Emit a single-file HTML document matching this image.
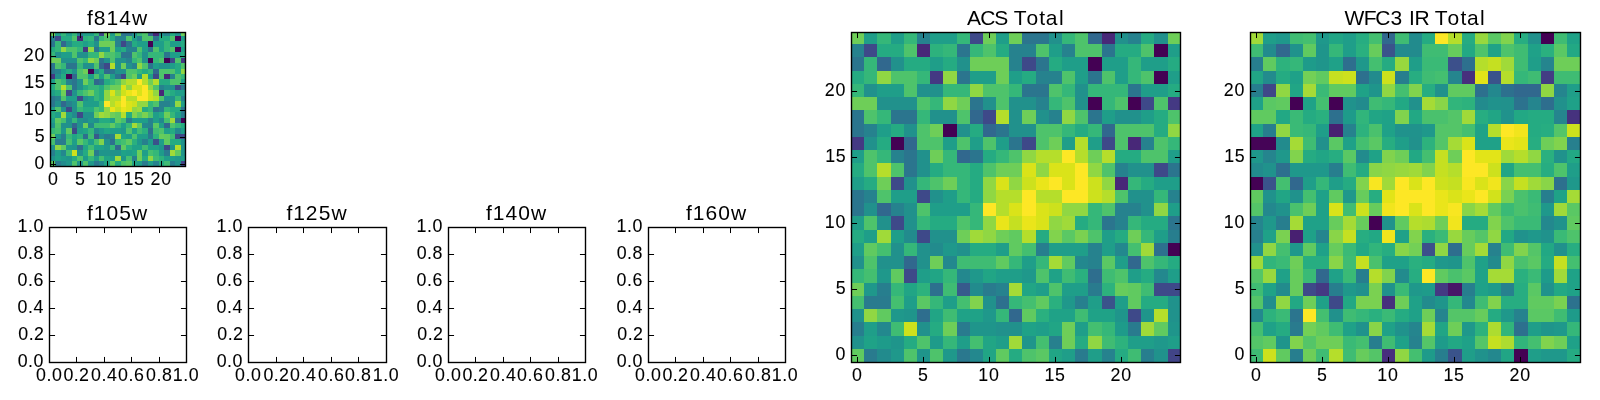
<!DOCTYPE html>
<html><head><meta charset="utf-8"><title>figure</title>
<style>
html,body{margin:0;padding:0;background:#fff;}
body{width:1600px;height:400px;overflow:hidden;}
svg{display:block;will-change:transform;}
text{font-family:"Liberation Sans",sans-serif;fill:#000;}
.tk text{stroke:#000;stroke-width:0.08px;}
.c rect{shape-rendering:crispEdges;}
.k path{stroke:#000;stroke-width:1;fill:none;}
.s{fill:none;stroke:#000;stroke-width:1.39;}
</style></head><body>
<svg width="1600" height="400" viewBox="0 0 1600 400">
<rect x="0" y="0" width="1600" height="400" fill="#fff"/>
<g class="c">
<rect x="50" y="32" width="5" height="4" fill="#6ece58"/>
<rect x="55" y="32" width="6" height="4" fill="#1f9e89"/>
<rect x="61" y="32" width="5" height="4" fill="#35b779"/>
<rect x="66" y="32" width="6" height="4" fill="#1f9e89"/>
<rect x="72" y="32" width="5" height="4" fill="#35b779"/>
<rect x="77" y="32" width="6" height="4" fill="#26828e"/>
<rect x="83" y="32" width="5" height="4" fill="#1f9e89"/>
<rect x="88" y="32" width="6" height="4" fill="#1f9e89"/>
<rect x="94" y="32" width="5" height="4" fill="#35b779"/>
<rect x="99" y="32" width="5" height="4" fill="#3e4989"/>
<rect x="104" y="32" width="6" height="4" fill="#6ece58"/>
<rect x="110" y="32" width="5" height="4" fill="#1f9e89"/>
<rect x="115" y="32" width="6" height="4" fill="#6ece58"/>
<rect x="121" y="32" width="5" height="4" fill="#2b758e"/>
<rect x="126" y="32" width="6" height="4" fill="#2b758e"/>
<rect x="132" y="32" width="5" height="4" fill="#21918c"/>
<rect x="137" y="32" width="5" height="4" fill="#35b779"/>
<rect x="142" y="32" width="6" height="4" fill="#4ec36b"/>
<rect x="148" y="32" width="5" height="4" fill="#31688e"/>
<rect x="153" y="32" width="6" height="4" fill="#482878"/>
<rect x="159" y="32" width="5" height="4" fill="#21918c"/>
<rect x="164" y="32" width="6" height="4" fill="#26828e"/>
<rect x="170" y="32" width="5" height="4" fill="#25ab82"/>
<rect x="175" y="32" width="6" height="4" fill="#21918c"/>
<rect x="181" y="32" width="5" height="4" fill="#6ece58"/>
<rect x="50" y="36" width="5" height="5" fill="#26828e"/>
<rect x="55" y="36" width="6" height="5" fill="#3e4989"/>
<rect x="61" y="36" width="5" height="5" fill="#25ab82"/>
<rect x="66" y="36" width="6" height="5" fill="#25ab82"/>
<rect x="72" y="36" width="5" height="5" fill="#4ec36b"/>
<rect x="77" y="36" width="6" height="5" fill="#482878"/>
<rect x="83" y="36" width="5" height="5" fill="#2db27d"/>
<rect x="88" y="36" width="6" height="5" fill="#35b779"/>
<rect x="94" y="36" width="5" height="5" fill="#2b758e"/>
<rect x="99" y="36" width="5" height="5" fill="#35b779"/>
<rect x="104" y="36" width="6" height="5" fill="#4ec36b"/>
<rect x="110" y="36" width="5" height="5" fill="#25ab82"/>
<rect x="115" y="36" width="6" height="5" fill="#26828e"/>
<rect x="121" y="36" width="5" height="5" fill="#26828e"/>
<rect x="126" y="36" width="6" height="5" fill="#4ec36b"/>
<rect x="132" y="36" width="5" height="5" fill="#1f9e89"/>
<rect x="137" y="36" width="5" height="5" fill="#26828e"/>
<rect x="142" y="36" width="6" height="5" fill="#4ec36b"/>
<rect x="148" y="36" width="5" height="5" fill="#4ec36b"/>
<rect x="153" y="36" width="6" height="5" fill="#2b758e"/>
<rect x="159" y="36" width="5" height="5" fill="#25ab82"/>
<rect x="164" y="36" width="6" height="5" fill="#25ab82"/>
<rect x="170" y="36" width="5" height="5" fill="#4ec36b"/>
<rect x="175" y="36" width="6" height="5" fill="#440154"/>
<rect x="181" y="36" width="5" height="5" fill="#1f9e89"/>
<rect x="50" y="41" width="5" height="6" fill="#2b758e"/>
<rect x="55" y="41" width="6" height="6" fill="#35b779"/>
<rect x="61" y="41" width="5" height="6" fill="#31688e"/>
<rect x="66" y="41" width="6" height="6" fill="#21918c"/>
<rect x="72" y="41" width="5" height="6" fill="#25ab82"/>
<rect x="77" y="41" width="6" height="6" fill="#25ab82"/>
<rect x="83" y="41" width="5" height="6" fill="#1f9e89"/>
<rect x="88" y="41" width="6" height="6" fill="#25ab82"/>
<rect x="94" y="41" width="5" height="6" fill="#21918c"/>
<rect x="99" y="41" width="5" height="6" fill="#6ece58"/>
<rect x="104" y="41" width="6" height="6" fill="#6ece58"/>
<rect x="110" y="41" width="5" height="6" fill="#6ece58"/>
<rect x="115" y="41" width="6" height="6" fill="#26828e"/>
<rect x="121" y="41" width="5" height="6" fill="#3e4989"/>
<rect x="126" y="41" width="6" height="6" fill="#2b758e"/>
<rect x="132" y="41" width="5" height="6" fill="#25ab82"/>
<rect x="137" y="41" width="5" height="6" fill="#1f9e89"/>
<rect x="142" y="41" width="6" height="6" fill="#1f9e89"/>
<rect x="148" y="41" width="5" height="6" fill="#440154"/>
<rect x="153" y="41" width="6" height="6" fill="#1f9e89"/>
<rect x="159" y="41" width="5" height="6" fill="#1f9e89"/>
<rect x="164" y="41" width="6" height="6" fill="#35b779"/>
<rect x="170" y="41" width="5" height="6" fill="#1f9e89"/>
<rect x="175" y="41" width="6" height="6" fill="#1f9e89"/>
<rect x="181" y="41" width="5" height="6" fill="#25ab82"/>
<rect x="50" y="47" width="5" height="5" fill="#25ab82"/>
<rect x="55" y="47" width="6" height="5" fill="#35b779"/>
<rect x="61" y="47" width="5" height="5" fill="#90d743"/>
<rect x="66" y="47" width="6" height="5" fill="#4ec36b"/>
<rect x="72" y="47" width="5" height="5" fill="#4ec36b"/>
<rect x="77" y="47" width="6" height="5" fill="#35b779"/>
<rect x="83" y="47" width="5" height="5" fill="#443983"/>
<rect x="88" y="47" width="6" height="5" fill="#90d743"/>
<rect x="94" y="47" width="5" height="5" fill="#2b758e"/>
<rect x="99" y="47" width="5" height="5" fill="#1f9e89"/>
<rect x="104" y="47" width="6" height="5" fill="#1f9e89"/>
<rect x="110" y="47" width="5" height="5" fill="#6ece58"/>
<rect x="115" y="47" width="6" height="5" fill="#1f9e89"/>
<rect x="121" y="47" width="5" height="5" fill="#25ab82"/>
<rect x="126" y="47" width="6" height="5" fill="#26828e"/>
<rect x="132" y="47" width="5" height="5" fill="#26828e"/>
<rect x="137" y="47" width="5" height="5" fill="#4ec36b"/>
<rect x="142" y="47" width="6" height="5" fill="#1f9e89"/>
<rect x="148" y="47" width="5" height="5" fill="#2b758e"/>
<rect x="153" y="47" width="6" height="5" fill="#4ec36b"/>
<rect x="159" y="47" width="5" height="5" fill="#1f9e89"/>
<rect x="164" y="47" width="6" height="5" fill="#35b779"/>
<rect x="170" y="47" width="5" height="5" fill="#4ec36b"/>
<rect x="175" y="47" width="6" height="5" fill="#440154"/>
<rect x="181" y="47" width="5" height="5" fill="#1f9e89"/>
<rect x="50" y="52" width="5" height="6" fill="#35b779"/>
<rect x="55" y="52" width="6" height="6" fill="#21918c"/>
<rect x="61" y="52" width="5" height="6" fill="#1f9e89"/>
<rect x="66" y="52" width="6" height="6" fill="#1f9e89"/>
<rect x="72" y="52" width="5" height="6" fill="#4ec36b"/>
<rect x="77" y="52" width="6" height="6" fill="#21918c"/>
<rect x="83" y="52" width="5" height="6" fill="#21918c"/>
<rect x="88" y="52" width="6" height="6" fill="#35b779"/>
<rect x="94" y="52" width="5" height="6" fill="#35b779"/>
<rect x="99" y="52" width="5" height="6" fill="#90d743"/>
<rect x="104" y="52" width="6" height="6" fill="#4ec36b"/>
<rect x="110" y="52" width="5" height="6" fill="#4ec36b"/>
<rect x="115" y="52" width="6" height="6" fill="#35b779"/>
<rect x="121" y="52" width="5" height="6" fill="#2b758e"/>
<rect x="126" y="52" width="6" height="6" fill="#2b758e"/>
<rect x="132" y="52" width="5" height="6" fill="#4ec36b"/>
<rect x="137" y="52" width="5" height="6" fill="#35b779"/>
<rect x="142" y="52" width="6" height="6" fill="#21918c"/>
<rect x="148" y="52" width="5" height="6" fill="#35b779"/>
<rect x="153" y="52" width="6" height="6" fill="#35b779"/>
<rect x="159" y="52" width="5" height="6" fill="#35b779"/>
<rect x="164" y="52" width="6" height="6" fill="#2b758e"/>
<rect x="170" y="52" width="5" height="6" fill="#1f9e89"/>
<rect x="175" y="52" width="6" height="6" fill="#1f9e89"/>
<rect x="181" y="52" width="5" height="6" fill="#25ab82"/>
<rect x="50" y="58" width="5" height="5" fill="#6ece58"/>
<rect x="55" y="58" width="6" height="5" fill="#6ece58"/>
<rect x="61" y="58" width="5" height="5" fill="#21918c"/>
<rect x="66" y="58" width="6" height="5" fill="#21918c"/>
<rect x="72" y="58" width="5" height="5" fill="#21918c"/>
<rect x="77" y="58" width="6" height="5" fill="#4ec36b"/>
<rect x="83" y="58" width="5" height="5" fill="#35b779"/>
<rect x="88" y="58" width="6" height="5" fill="#90d743"/>
<rect x="94" y="58" width="5" height="5" fill="#6ece58"/>
<rect x="99" y="58" width="5" height="5" fill="#2b758e"/>
<rect x="104" y="58" width="6" height="5" fill="#21918c"/>
<rect x="110" y="58" width="5" height="5" fill="#4ec36b"/>
<rect x="115" y="58" width="6" height="5" fill="#21918c"/>
<rect x="121" y="58" width="5" height="5" fill="#21918c"/>
<rect x="126" y="58" width="6" height="5" fill="#26828e"/>
<rect x="132" y="58" width="5" height="5" fill="#35b779"/>
<rect x="137" y="58" width="5" height="5" fill="#4ec36b"/>
<rect x="142" y="58" width="6" height="5" fill="#21918c"/>
<rect x="148" y="58" width="5" height="5" fill="#440154"/>
<rect x="153" y="58" width="6" height="5" fill="#35b779"/>
<rect x="159" y="58" width="5" height="5" fill="#4ec36b"/>
<rect x="164" y="58" width="6" height="5" fill="#440154"/>
<rect x="170" y="58" width="5" height="5" fill="#3e4989"/>
<rect x="175" y="58" width="6" height="5" fill="#4ec36b"/>
<rect x="181" y="58" width="5" height="5" fill="#443983"/>
<rect x="50" y="63" width="5" height="6" fill="#2b758e"/>
<rect x="55" y="63" width="6" height="6" fill="#4ec36b"/>
<rect x="61" y="63" width="5" height="6" fill="#35b779"/>
<rect x="66" y="63" width="6" height="6" fill="#2b758e"/>
<rect x="72" y="63" width="5" height="6" fill="#2b758e"/>
<rect x="77" y="63" width="6" height="6" fill="#35b779"/>
<rect x="83" y="63" width="5" height="6" fill="#21918c"/>
<rect x="88" y="63" width="6" height="6" fill="#21918c"/>
<rect x="94" y="63" width="5" height="6" fill="#4ec36b"/>
<rect x="99" y="63" width="5" height="6" fill="#31688e"/>
<rect x="104" y="63" width="6" height="6" fill="#3e4989"/>
<rect x="110" y="63" width="5" height="6" fill="#b5de2b"/>
<rect x="115" y="63" width="6" height="6" fill="#21918c"/>
<rect x="121" y="63" width="5" height="6" fill="#6ece58"/>
<rect x="126" y="63" width="6" height="6" fill="#21918c"/>
<rect x="132" y="63" width="5" height="6" fill="#26828e"/>
<rect x="137" y="63" width="5" height="6" fill="#90d743"/>
<rect x="142" y="63" width="6" height="6" fill="#4ec36b"/>
<rect x="148" y="63" width="5" height="6" fill="#2b758e"/>
<rect x="153" y="63" width="6" height="6" fill="#1f9e89"/>
<rect x="159" y="63" width="5" height="6" fill="#21918c"/>
<rect x="164" y="63" width="6" height="6" fill="#21918c"/>
<rect x="170" y="63" width="5" height="6" fill="#1f9e89"/>
<rect x="175" y="63" width="6" height="6" fill="#25ab82"/>
<rect x="181" y="63" width="5" height="6" fill="#4ec36b"/>
<rect x="50" y="69" width="5" height="5" fill="#2b758e"/>
<rect x="55" y="69" width="6" height="5" fill="#26828e"/>
<rect x="61" y="69" width="5" height="5" fill="#1f9e89"/>
<rect x="66" y="69" width="6" height="5" fill="#25ab82"/>
<rect x="72" y="69" width="5" height="5" fill="#21918c"/>
<rect x="77" y="69" width="6" height="5" fill="#4ec36b"/>
<rect x="83" y="69" width="5" height="5" fill="#6ece58"/>
<rect x="88" y="69" width="6" height="5" fill="#440154"/>
<rect x="94" y="69" width="5" height="5" fill="#21918c"/>
<rect x="99" y="69" width="5" height="5" fill="#25ab82"/>
<rect x="104" y="69" width="6" height="5" fill="#31688e"/>
<rect x="110" y="69" width="5" height="5" fill="#2b758e"/>
<rect x="115" y="69" width="6" height="5" fill="#21918c"/>
<rect x="121" y="69" width="5" height="5" fill="#21918c"/>
<rect x="126" y="69" width="6" height="5" fill="#4ec36b"/>
<rect x="132" y="69" width="5" height="5" fill="#4ec36b"/>
<rect x="137" y="69" width="5" height="5" fill="#35b779"/>
<rect x="142" y="69" width="6" height="5" fill="#25ab82"/>
<rect x="148" y="69" width="5" height="5" fill="#35b779"/>
<rect x="153" y="69" width="6" height="5" fill="#31688e"/>
<rect x="159" y="69" width="5" height="5" fill="#4ec36b"/>
<rect x="164" y="69" width="6" height="5" fill="#4ec36b"/>
<rect x="170" y="69" width="5" height="5" fill="#4ec36b"/>
<rect x="175" y="69" width="6" height="5" fill="#25ab82"/>
<rect x="181" y="69" width="5" height="5" fill="#90d743"/>
<rect x="50" y="74" width="5" height="5" fill="#443983"/>
<rect x="55" y="74" width="6" height="5" fill="#21918c"/>
<rect x="61" y="74" width="5" height="5" fill="#25ab82"/>
<rect x="66" y="74" width="6" height="5" fill="#440154"/>
<rect x="72" y="74" width="5" height="5" fill="#31688e"/>
<rect x="77" y="74" width="6" height="5" fill="#4ec36b"/>
<rect x="83" y="74" width="5" height="5" fill="#4ec36b"/>
<rect x="88" y="74" width="6" height="5" fill="#1f9e89"/>
<rect x="94" y="74" width="5" height="5" fill="#4ec36b"/>
<rect x="99" y="74" width="5" height="5" fill="#1f9e89"/>
<rect x="104" y="74" width="6" height="5" fill="#4ec36b"/>
<rect x="110" y="74" width="5" height="5" fill="#1f9e89"/>
<rect x="115" y="74" width="6" height="5" fill="#2b758e"/>
<rect x="121" y="74" width="5" height="5" fill="#3e4989"/>
<rect x="126" y="74" width="6" height="5" fill="#4ec36b"/>
<rect x="132" y="74" width="5" height="5" fill="#6ece58"/>
<rect x="137" y="74" width="5" height="5" fill="#1f9e89"/>
<rect x="142" y="74" width="6" height="5" fill="#b5de2b"/>
<rect x="148" y="74" width="5" height="5" fill="#1f9e89"/>
<rect x="153" y="74" width="6" height="5" fill="#3e4989"/>
<rect x="159" y="74" width="5" height="5" fill="#4ec36b"/>
<rect x="164" y="74" width="6" height="5" fill="#482878"/>
<rect x="170" y="74" width="5" height="5" fill="#26828e"/>
<rect x="175" y="74" width="6" height="5" fill="#4ec36b"/>
<rect x="181" y="74" width="5" height="5" fill="#35b779"/>
<rect x="50" y="79" width="5" height="6" fill="#1f9e89"/>
<rect x="55" y="79" width="6" height="6" fill="#4ec36b"/>
<rect x="61" y="79" width="5" height="6" fill="#35b779"/>
<rect x="66" y="79" width="6" height="6" fill="#26828e"/>
<rect x="72" y="79" width="5" height="6" fill="#2b758e"/>
<rect x="77" y="79" width="6" height="6" fill="#21918c"/>
<rect x="83" y="79" width="5" height="6" fill="#6ece58"/>
<rect x="88" y="79" width="6" height="6" fill="#35b779"/>
<rect x="94" y="79" width="5" height="6" fill="#31688e"/>
<rect x="99" y="79" width="5" height="6" fill="#2b758e"/>
<rect x="104" y="79" width="6" height="6" fill="#25ab82"/>
<rect x="110" y="79" width="5" height="6" fill="#35b779"/>
<rect x="115" y="79" width="6" height="6" fill="#4ec36b"/>
<rect x="121" y="79" width="5" height="6" fill="#90d743"/>
<rect x="126" y="79" width="6" height="6" fill="#b5de2b"/>
<rect x="132" y="79" width="5" height="6" fill="#b5de2b"/>
<rect x="137" y="79" width="5" height="6" fill="#fde725"/>
<rect x="142" y="79" width="6" height="6" fill="#b5de2b"/>
<rect x="148" y="79" width="5" height="6" fill="#6ece58"/>
<rect x="153" y="79" width="6" height="6" fill="#b5de2b"/>
<rect x="159" y="79" width="5" height="6" fill="#25ab82"/>
<rect x="164" y="79" width="6" height="6" fill="#25ab82"/>
<rect x="170" y="79" width="5" height="6" fill="#4ec36b"/>
<rect x="175" y="79" width="6" height="6" fill="#4ec36b"/>
<rect x="181" y="79" width="5" height="6" fill="#1f9e89"/>
<rect x="50" y="85" width="5" height="5" fill="#25ab82"/>
<rect x="55" y="85" width="6" height="5" fill="#4ec36b"/>
<rect x="61" y="85" width="5" height="5" fill="#b5de2b"/>
<rect x="66" y="85" width="6" height="5" fill="#4ec36b"/>
<rect x="72" y="85" width="5" height="5" fill="#2b758e"/>
<rect x="77" y="85" width="6" height="5" fill="#21918c"/>
<rect x="83" y="85" width="5" height="5" fill="#25ab82"/>
<rect x="88" y="85" width="6" height="5" fill="#35b779"/>
<rect x="94" y="85" width="5" height="5" fill="#35b779"/>
<rect x="99" y="85" width="5" height="5" fill="#25ab82"/>
<rect x="104" y="85" width="6" height="5" fill="#4ec36b"/>
<rect x="110" y="85" width="5" height="5" fill="#6ece58"/>
<rect x="115" y="85" width="6" height="5" fill="#6ece58"/>
<rect x="121" y="85" width="5" height="5" fill="#dae319"/>
<rect x="126" y="85" width="6" height="5" fill="#90d743"/>
<rect x="132" y="85" width="5" height="5" fill="#dae319"/>
<rect x="137" y="85" width="5" height="5" fill="#dae319"/>
<rect x="142" y="85" width="6" height="5" fill="#fde725"/>
<rect x="148" y="85" width="5" height="5" fill="#90d743"/>
<rect x="153" y="85" width="6" height="5" fill="#4ec36b"/>
<rect x="159" y="85" width="5" height="5" fill="#26828e"/>
<rect x="164" y="85" width="6" height="5" fill="#21918c"/>
<rect x="170" y="85" width="5" height="5" fill="#21918c"/>
<rect x="175" y="85" width="6" height="5" fill="#3e4989"/>
<rect x="181" y="85" width="5" height="5" fill="#2b758e"/>
<rect x="50" y="90" width="5" height="6" fill="#1f9e89"/>
<rect x="55" y="90" width="6" height="6" fill="#25ab82"/>
<rect x="61" y="90" width="5" height="6" fill="#6ece58"/>
<rect x="66" y="90" width="6" height="6" fill="#3e4989"/>
<rect x="72" y="90" width="5" height="6" fill="#21918c"/>
<rect x="77" y="90" width="6" height="6" fill="#35b779"/>
<rect x="83" y="90" width="5" height="6" fill="#4ec36b"/>
<rect x="88" y="90" width="6" height="6" fill="#6ece58"/>
<rect x="94" y="90" width="5" height="6" fill="#35b779"/>
<rect x="99" y="90" width="5" height="6" fill="#25ab82"/>
<rect x="104" y="90" width="6" height="6" fill="#90d743"/>
<rect x="110" y="90" width="5" height="6" fill="#dae319"/>
<rect x="115" y="90" width="6" height="6" fill="#90d743"/>
<rect x="121" y="90" width="5" height="6" fill="#cde11d"/>
<rect x="126" y="90" width="6" height="6" fill="#eae51a"/>
<rect x="132" y="90" width="5" height="6" fill="#fde725"/>
<rect x="137" y="90" width="5" height="6" fill="#dae319"/>
<rect x="142" y="90" width="6" height="6" fill="#fde725"/>
<rect x="148" y="90" width="5" height="6" fill="#cde11d"/>
<rect x="153" y="90" width="6" height="6" fill="#90d743"/>
<rect x="159" y="90" width="5" height="6" fill="#482878"/>
<rect x="164" y="90" width="6" height="6" fill="#35b779"/>
<rect x="170" y="90" width="5" height="6" fill="#25ab82"/>
<rect x="175" y="90" width="6" height="6" fill="#1f9e89"/>
<rect x="181" y="90" width="5" height="6" fill="#1f9e89"/>
<rect x="50" y="96" width="5" height="5" fill="#2b758e"/>
<rect x="55" y="96" width="6" height="5" fill="#26828e"/>
<rect x="61" y="96" width="5" height="5" fill="#4ec36b"/>
<rect x="66" y="96" width="6" height="5" fill="#1f9e89"/>
<rect x="72" y="96" width="5" height="5" fill="#1f9e89"/>
<rect x="77" y="96" width="6" height="5" fill="#3e4989"/>
<rect x="83" y="96" width="5" height="5" fill="#21918c"/>
<rect x="88" y="96" width="6" height="5" fill="#1f9e89"/>
<rect x="94" y="96" width="5" height="5" fill="#35b779"/>
<rect x="99" y="96" width="5" height="5" fill="#25ab82"/>
<rect x="104" y="96" width="6" height="5" fill="#90d743"/>
<rect x="110" y="96" width="5" height="5" fill="#b5de2b"/>
<rect x="115" y="96" width="6" height="5" fill="#b5de2b"/>
<rect x="121" y="96" width="5" height="5" fill="#fde725"/>
<rect x="126" y="96" width="6" height="5" fill="#b5de2b"/>
<rect x="132" y="96" width="5" height="5" fill="#b5de2b"/>
<rect x="137" y="96" width="5" height="5" fill="#fde725"/>
<rect x="142" y="96" width="6" height="5" fill="#fde725"/>
<rect x="148" y="96" width="5" height="5" fill="#cde11d"/>
<rect x="153" y="96" width="6" height="5" fill="#b5de2b"/>
<rect x="159" y="96" width="5" height="5" fill="#4ec36b"/>
<rect x="164" y="96" width="6" height="5" fill="#21918c"/>
<rect x="170" y="96" width="5" height="5" fill="#21918c"/>
<rect x="175" y="96" width="6" height="5" fill="#35b779"/>
<rect x="181" y="96" width="5" height="5" fill="#26828e"/>
<rect x="50" y="101" width="5" height="6" fill="#2b758e"/>
<rect x="55" y="101" width="6" height="6" fill="#21918c"/>
<rect x="61" y="101" width="5" height="6" fill="#31688e"/>
<rect x="66" y="101" width="6" height="6" fill="#26828e"/>
<rect x="72" y="101" width="5" height="6" fill="#21918c"/>
<rect x="77" y="101" width="6" height="6" fill="#4ec36b"/>
<rect x="83" y="101" width="5" height="6" fill="#1f9e89"/>
<rect x="88" y="101" width="6" height="6" fill="#1f9e89"/>
<rect x="94" y="101" width="5" height="6" fill="#1f9e89"/>
<rect x="99" y="101" width="5" height="6" fill="#35b779"/>
<rect x="104" y="101" width="6" height="6" fill="#fde725"/>
<rect x="110" y="101" width="5" height="6" fill="#b5de2b"/>
<rect x="115" y="101" width="6" height="6" fill="#dae319"/>
<rect x="121" y="101" width="5" height="6" fill="#fde725"/>
<rect x="126" y="101" width="6" height="6" fill="#dae319"/>
<rect x="132" y="101" width="5" height="6" fill="#cde11d"/>
<rect x="137" y="101" width="5" height="6" fill="#90d743"/>
<rect x="142" y="101" width="6" height="6" fill="#90d743"/>
<rect x="148" y="101" width="5" height="6" fill="#35b779"/>
<rect x="153" y="101" width="6" height="6" fill="#4ec36b"/>
<rect x="159" y="101" width="5" height="6" fill="#26828e"/>
<rect x="164" y="101" width="6" height="6" fill="#26828e"/>
<rect x="170" y="101" width="5" height="6" fill="#21918c"/>
<rect x="175" y="101" width="6" height="6" fill="#90d743"/>
<rect x="181" y="101" width="5" height="6" fill="#1f9e89"/>
<rect x="50" y="107" width="5" height="5" fill="#1f9e89"/>
<rect x="55" y="107" width="6" height="5" fill="#4ec36b"/>
<rect x="61" y="107" width="5" height="5" fill="#21918c"/>
<rect x="66" y="107" width="6" height="5" fill="#3e4989"/>
<rect x="72" y="107" width="5" height="5" fill="#21918c"/>
<rect x="77" y="107" width="6" height="5" fill="#35b779"/>
<rect x="83" y="107" width="5" height="5" fill="#25ab82"/>
<rect x="88" y="107" width="6" height="5" fill="#25ab82"/>
<rect x="94" y="107" width="5" height="5" fill="#4ec36b"/>
<rect x="99" y="107" width="5" height="5" fill="#35b779"/>
<rect x="104" y="107" width="6" height="5" fill="#90d743"/>
<rect x="110" y="107" width="5" height="5" fill="#eae51a"/>
<rect x="115" y="107" width="6" height="5" fill="#c5e021"/>
<rect x="121" y="107" width="5" height="5" fill="#eae51a"/>
<rect x="126" y="107" width="6" height="5" fill="#dae319"/>
<rect x="132" y="107" width="5" height="5" fill="#90d743"/>
<rect x="137" y="107" width="5" height="5" fill="#a0da39"/>
<rect x="142" y="107" width="6" height="5" fill="#25ab82"/>
<rect x="148" y="107" width="5" height="5" fill="#35b779"/>
<rect x="153" y="107" width="6" height="5" fill="#2b758e"/>
<rect x="159" y="107" width="5" height="5" fill="#26828e"/>
<rect x="164" y="107" width="6" height="5" fill="#35b779"/>
<rect x="170" y="107" width="5" height="5" fill="#25ab82"/>
<rect x="175" y="107" width="6" height="5" fill="#25ab82"/>
<rect x="181" y="107" width="5" height="5" fill="#2b758e"/>
<rect x="50" y="112" width="5" height="6" fill="#25ab82"/>
<rect x="55" y="112" width="6" height="6" fill="#1f9e89"/>
<rect x="61" y="112" width="5" height="6" fill="#a0da39"/>
<rect x="66" y="112" width="6" height="6" fill="#1f9e89"/>
<rect x="72" y="112" width="5" height="6" fill="#228b8d"/>
<rect x="77" y="112" width="6" height="6" fill="#3e4989"/>
<rect x="83" y="112" width="5" height="6" fill="#21918c"/>
<rect x="88" y="112" width="6" height="6" fill="#21918c"/>
<rect x="94" y="112" width="5" height="6" fill="#6ece58"/>
<rect x="99" y="112" width="5" height="6" fill="#a0da39"/>
<rect x="104" y="112" width="6" height="6" fill="#90d743"/>
<rect x="110" y="112" width="5" height="6" fill="#6ece58"/>
<rect x="115" y="112" width="6" height="6" fill="#60ca60"/>
<rect x="121" y="112" width="5" height="6" fill="#b5de2b"/>
<rect x="126" y="112" width="6" height="6" fill="#25ab82"/>
<rect x="132" y="112" width="5" height="6" fill="#81d34d"/>
<rect x="137" y="112" width="5" height="6" fill="#5ac864"/>
<rect x="142" y="112" width="6" height="6" fill="#7ad151"/>
<rect x="148" y="112" width="5" height="6" fill="#4ec36b"/>
<rect x="153" y="112" width="6" height="6" fill="#1f9e89"/>
<rect x="159" y="112" width="5" height="6" fill="#25ab82"/>
<rect x="164" y="112" width="6" height="6" fill="#6ece58"/>
<rect x="170" y="112" width="5" height="6" fill="#35b779"/>
<rect x="175" y="112" width="6" height="6" fill="#1f9e89"/>
<rect x="181" y="112" width="5" height="6" fill="#277e8e"/>
<rect x="50" y="118" width="5" height="5" fill="#1f9e89"/>
<rect x="55" y="118" width="6" height="5" fill="#60ca60"/>
<rect x="61" y="118" width="5" height="5" fill="#44bf70"/>
<rect x="66" y="118" width="6" height="5" fill="#21918c"/>
<rect x="72" y="118" width="5" height="5" fill="#35b779"/>
<rect x="77" y="118" width="6" height="5" fill="#21918c"/>
<rect x="83" y="118" width="5" height="5" fill="#228b8d"/>
<rect x="88" y="118" width="6" height="5" fill="#1f988b"/>
<rect x="94" y="118" width="5" height="5" fill="#21918c"/>
<rect x="99" y="118" width="5" height="5" fill="#25ab82"/>
<rect x="104" y="118" width="6" height="5" fill="#25ab82"/>
<rect x="110" y="118" width="5" height="5" fill="#1f9e89"/>
<rect x="115" y="118" width="6" height="5" fill="#60ca60"/>
<rect x="121" y="118" width="5" height="5" fill="#44bf70"/>
<rect x="126" y="118" width="6" height="5" fill="#277e8e"/>
<rect x="132" y="118" width="5" height="5" fill="#1f9e89"/>
<rect x="137" y="118" width="5" height="5" fill="#1f9e89"/>
<rect x="142" y="118" width="6" height="5" fill="#1f9e89"/>
<rect x="148" y="118" width="5" height="5" fill="#26828e"/>
<rect x="153" y="118" width="6" height="5" fill="#1f9e89"/>
<rect x="159" y="118" width="5" height="5" fill="#23888e"/>
<rect x="164" y="118" width="6" height="5" fill="#44bf70"/>
<rect x="170" y="118" width="5" height="5" fill="#a0da39"/>
<rect x="175" y="118" width="6" height="5" fill="#2d708e"/>
<rect x="181" y="118" width="5" height="5" fill="#440154"/>
<rect x="50" y="123" width="5" height="5" fill="#21918c"/>
<rect x="55" y="123" width="6" height="5" fill="#4ec36b"/>
<rect x="61" y="123" width="5" height="5" fill="#21918c"/>
<rect x="66" y="123" width="6" height="5" fill="#21918c"/>
<rect x="72" y="123" width="5" height="5" fill="#31688e"/>
<rect x="77" y="123" width="6" height="5" fill="#21918c"/>
<rect x="83" y="123" width="5" height="5" fill="#6ece58"/>
<rect x="88" y="123" width="6" height="5" fill="#23888e"/>
<rect x="94" y="123" width="5" height="5" fill="#3fbc73"/>
<rect x="99" y="123" width="5" height="5" fill="#3fbc73"/>
<rect x="104" y="123" width="6" height="5" fill="#3fbc73"/>
<rect x="110" y="123" width="5" height="5" fill="#60ca60"/>
<rect x="115" y="123" width="6" height="5" fill="#35b779"/>
<rect x="121" y="123" width="5" height="5" fill="#1f9e89"/>
<rect x="126" y="123" width="6" height="5" fill="#35b779"/>
<rect x="132" y="123" width="5" height="5" fill="#a5db36"/>
<rect x="137" y="123" width="5" height="5" fill="#60ca60"/>
<rect x="142" y="123" width="6" height="5" fill="#23888e"/>
<rect x="148" y="123" width="5" height="5" fill="#26828e"/>
<rect x="153" y="123" width="6" height="5" fill="#5ac864"/>
<rect x="159" y="123" width="5" height="5" fill="#1f9e89"/>
<rect x="164" y="123" width="6" height="5" fill="#31688e"/>
<rect x="170" y="123" width="5" height="5" fill="#4ec36b"/>
<rect x="175" y="123" width="6" height="5" fill="#35b779"/>
<rect x="181" y="123" width="5" height="5" fill="#25ab82"/>
<rect x="50" y="128" width="5" height="6" fill="#35b779"/>
<rect x="55" y="128" width="6" height="6" fill="#44bf70"/>
<rect x="61" y="128" width="5" height="6" fill="#1f988b"/>
<rect x="66" y="128" width="6" height="6" fill="#60ca60"/>
<rect x="72" y="128" width="5" height="6" fill="#3e4989"/>
<rect x="77" y="128" width="6" height="6" fill="#1f9e89"/>
<rect x="83" y="128" width="5" height="6" fill="#21a585"/>
<rect x="88" y="128" width="6" height="6" fill="#35b779"/>
<rect x="94" y="128" width="5" height="6" fill="#23888e"/>
<rect x="99" y="128" width="5" height="6" fill="#1f988b"/>
<rect x="104" y="128" width="6" height="6" fill="#21a585"/>
<rect x="110" y="128" width="5" height="6" fill="#1f9e89"/>
<rect x="115" y="128" width="6" height="6" fill="#1f9e89"/>
<rect x="121" y="128" width="5" height="6" fill="#1f988b"/>
<rect x="126" y="128" width="6" height="6" fill="#4ec36b"/>
<rect x="132" y="128" width="5" height="6" fill="#1fa287"/>
<rect x="137" y="128" width="5" height="6" fill="#3fbc73"/>
<rect x="142" y="128" width="6" height="6" fill="#2ab07f"/>
<rect x="148" y="128" width="5" height="6" fill="#2e6e8e"/>
<rect x="153" y="128" width="6" height="6" fill="#3fbc73"/>
<rect x="159" y="128" width="5" height="6" fill="#4ec36b"/>
<rect x="164" y="128" width="6" height="6" fill="#1f9e89"/>
<rect x="170" y="128" width="5" height="6" fill="#25ab82"/>
<rect x="175" y="128" width="6" height="6" fill="#23888e"/>
<rect x="181" y="128" width="5" height="6" fill="#1f9e89"/>
<rect x="50" y="134" width="5" height="5" fill="#6ece58"/>
<rect x="55" y="134" width="6" height="5" fill="#1f988b"/>
<rect x="61" y="134" width="5" height="5" fill="#277e8e"/>
<rect x="66" y="134" width="6" height="5" fill="#35b779"/>
<rect x="72" y="134" width="5" height="5" fill="#21a585"/>
<rect x="77" y="134" width="6" height="5" fill="#2db27d"/>
<rect x="83" y="134" width="5" height="5" fill="#2d708e"/>
<rect x="88" y="134" width="6" height="5" fill="#3fbc73"/>
<rect x="94" y="134" width="5" height="5" fill="#375a8c"/>
<rect x="99" y="134" width="5" height="5" fill="#228b8d"/>
<rect x="104" y="134" width="6" height="5" fill="#297b8e"/>
<rect x="110" y="134" width="5" height="5" fill="#26828e"/>
<rect x="115" y="134" width="6" height="5" fill="#a5db36"/>
<rect x="121" y="134" width="5" height="5" fill="#21a585"/>
<rect x="126" y="134" width="6" height="5" fill="#1f9e89"/>
<rect x="132" y="134" width="5" height="5" fill="#4ec36b"/>
<rect x="137" y="134" width="5" height="5" fill="#1f9e89"/>
<rect x="142" y="134" width="6" height="5" fill="#1f9e89"/>
<rect x="148" y="134" width="5" height="5" fill="#297b8e"/>
<rect x="153" y="134" width="6" height="5" fill="#2db27d"/>
<rect x="159" y="134" width="5" height="5" fill="#67cc5c"/>
<rect x="164" y="134" width="6" height="5" fill="#60ca60"/>
<rect x="170" y="134" width="5" height="5" fill="#3fbc73"/>
<rect x="175" y="134" width="6" height="5" fill="#3e4989"/>
<rect x="181" y="134" width="5" height="5" fill="#3e4989"/>
<rect x="50" y="139" width="5" height="6" fill="#44bf70"/>
<rect x="55" y="139" width="6" height="6" fill="#297b8e"/>
<rect x="61" y="139" width="5" height="6" fill="#297b8e"/>
<rect x="66" y="139" width="6" height="6" fill="#44bf70"/>
<rect x="72" y="139" width="5" height="6" fill="#1f9e89"/>
<rect x="77" y="139" width="6" height="6" fill="#5ac864"/>
<rect x="83" y="139" width="5" height="6" fill="#35b779"/>
<rect x="88" y="139" width="6" height="6" fill="#1f9e89"/>
<rect x="94" y="139" width="5" height="6" fill="#44bf70"/>
<rect x="99" y="139" width="5" height="6" fill="#81d34d"/>
<rect x="104" y="139" width="6" height="6" fill="#21918c"/>
<rect x="110" y="139" width="5" height="6" fill="#2d708e"/>
<rect x="115" y="139" width="6" height="6" fill="#35b779"/>
<rect x="121" y="139" width="5" height="6" fill="#44bf70"/>
<rect x="126" y="139" width="6" height="6" fill="#60ca60"/>
<rect x="132" y="139" width="5" height="6" fill="#2ab07f"/>
<rect x="137" y="139" width="5" height="6" fill="#1f988b"/>
<rect x="142" y="139" width="6" height="6" fill="#27808e"/>
<rect x="148" y="139" width="5" height="6" fill="#1f9e89"/>
<rect x="153" y="139" width="6" height="6" fill="#3a538b"/>
<rect x="159" y="139" width="5" height="6" fill="#1f9e89"/>
<rect x="164" y="139" width="6" height="6" fill="#60ca60"/>
<rect x="170" y="139" width="5" height="6" fill="#25ab82"/>
<rect x="175" y="139" width="6" height="6" fill="#25ab82"/>
<rect x="181" y="139" width="5" height="6" fill="#20928c"/>
<rect x="50" y="145" width="5" height="5" fill="#20928c"/>
<rect x="55" y="145" width="6" height="5" fill="#90d743"/>
<rect x="61" y="145" width="5" height="5" fill="#60ca60"/>
<rect x="66" y="145" width="6" height="5" fill="#1f988b"/>
<rect x="72" y="145" width="5" height="5" fill="#1f958b"/>
<rect x="77" y="145" width="6" height="5" fill="#2e6e8e"/>
<rect x="83" y="145" width="5" height="5" fill="#21a585"/>
<rect x="88" y="145" width="6" height="5" fill="#3fbc73"/>
<rect x="94" y="145" width="5" height="5" fill="#1fa287"/>
<rect x="99" y="145" width="5" height="5" fill="#1fa287"/>
<rect x="104" y="145" width="6" height="5" fill="#1f988b"/>
<rect x="110" y="145" width="5" height="5" fill="#35b779"/>
<rect x="115" y="145" width="6" height="5" fill="#31688e"/>
<rect x="121" y="145" width="5" height="5" fill="#60ca60"/>
<rect x="126" y="145" width="6" height="5" fill="#2ab07f"/>
<rect x="132" y="145" width="5" height="5" fill="#1fa287"/>
<rect x="137" y="145" width="5" height="5" fill="#1fa287"/>
<rect x="142" y="145" width="6" height="5" fill="#3fbc73"/>
<rect x="148" y="145" width="5" height="5" fill="#1fa287"/>
<rect x="153" y="145" width="6" height="5" fill="#1fa287"/>
<rect x="159" y="145" width="5" height="5" fill="#1f958b"/>
<rect x="164" y="145" width="6" height="5" fill="#3e4989"/>
<rect x="170" y="145" width="5" height="5" fill="#1f958b"/>
<rect x="175" y="145" width="6" height="5" fill="#b5de2b"/>
<rect x="181" y="145" width="5" height="5" fill="#20928c"/>
<rect x="50" y="150" width="5" height="6" fill="#277e8e"/>
<rect x="55" y="150" width="6" height="6" fill="#1f9e89"/>
<rect x="61" y="150" width="5" height="6" fill="#23888e"/>
<rect x="66" y="150" width="6" height="6" fill="#3fbc73"/>
<rect x="72" y="150" width="5" height="6" fill="#cde11d"/>
<rect x="77" y="150" width="6" height="6" fill="#21918c"/>
<rect x="83" y="150" width="5" height="6" fill="#25ab82"/>
<rect x="88" y="150" width="6" height="6" fill="#6ece58"/>
<rect x="94" y="150" width="5" height="6" fill="#297b8e"/>
<rect x="99" y="150" width="5" height="6" fill="#1f958b"/>
<rect x="104" y="150" width="6" height="6" fill="#1f958b"/>
<rect x="110" y="150" width="5" height="6" fill="#21918c"/>
<rect x="115" y="150" width="6" height="6" fill="#21918c"/>
<rect x="121" y="150" width="5" height="6" fill="#1fa287"/>
<rect x="126" y="150" width="6" height="6" fill="#1f9e89"/>
<rect x="132" y="150" width="5" height="6" fill="#21a585"/>
<rect x="137" y="150" width="5" height="6" fill="#6ece58"/>
<rect x="142" y="150" width="6" height="6" fill="#1f9e89"/>
<rect x="148" y="150" width="5" height="6" fill="#44bf70"/>
<rect x="153" y="150" width="6" height="6" fill="#35b779"/>
<rect x="159" y="150" width="5" height="6" fill="#1e9b8a"/>
<rect x="164" y="150" width="6" height="6" fill="#297b8e"/>
<rect x="170" y="150" width="5" height="6" fill="#a0da39"/>
<rect x="175" y="150" width="6" height="6" fill="#60ca60"/>
<rect x="181" y="150" width="5" height="6" fill="#1f958b"/>
<rect x="50" y="156" width="5" height="5" fill="#20928c"/>
<rect x="55" y="156" width="6" height="5" fill="#1fa287"/>
<rect x="61" y="156" width="5" height="5" fill="#1e9b8a"/>
<rect x="66" y="156" width="6" height="5" fill="#1f958b"/>
<rect x="72" y="156" width="5" height="5" fill="#25ab82"/>
<rect x="77" y="156" width="6" height="5" fill="#4ec36b"/>
<rect x="83" y="156" width="5" height="5" fill="#1e9b8a"/>
<rect x="88" y="156" width="6" height="5" fill="#35b779"/>
<rect x="94" y="156" width="5" height="5" fill="#1f9e89"/>
<rect x="99" y="156" width="5" height="5" fill="#44bf70"/>
<rect x="104" y="156" width="6" height="5" fill="#21a585"/>
<rect x="110" y="156" width="5" height="5" fill="#1f9e89"/>
<rect x="115" y="156" width="6" height="5" fill="#a0da39"/>
<rect x="121" y="156" width="5" height="5" fill="#1f958b"/>
<rect x="126" y="156" width="6" height="5" fill="#44bf70"/>
<rect x="132" y="156" width="5" height="5" fill="#27808e"/>
<rect x="137" y="156" width="5" height="5" fill="#6ece58"/>
<rect x="142" y="156" width="6" height="5" fill="#25ab82"/>
<rect x="148" y="156" width="5" height="5" fill="#90d743"/>
<rect x="153" y="156" width="6" height="5" fill="#3fbc73"/>
<rect x="159" y="156" width="5" height="5" fill="#2db27d"/>
<rect x="164" y="156" width="6" height="5" fill="#1f9e89"/>
<rect x="170" y="156" width="5" height="5" fill="#1f9e89"/>
<rect x="175" y="156" width="6" height="5" fill="#1f988b"/>
<rect x="181" y="156" width="5" height="5" fill="#1f9e89"/>
<rect x="50" y="161" width="5" height="6" fill="#60ca60"/>
<rect x="55" y="161" width="6" height="6" fill="#297b8e"/>
<rect x="61" y="161" width="5" height="6" fill="#228b8d"/>
<rect x="66" y="161" width="6" height="6" fill="#1f988b"/>
<rect x="72" y="161" width="5" height="6" fill="#4ec36b"/>
<rect x="77" y="161" width="6" height="6" fill="#1f958b"/>
<rect x="83" y="161" width="5" height="6" fill="#4ec36b"/>
<rect x="88" y="161" width="6" height="6" fill="#1f988b"/>
<rect x="94" y="161" width="5" height="6" fill="#2a788e"/>
<rect x="99" y="161" width="5" height="6" fill="#23888e"/>
<rect x="104" y="161" width="6" height="6" fill="#21a585"/>
<rect x="110" y="161" width="5" height="6" fill="#60ca60"/>
<rect x="115" y="161" width="6" height="6" fill="#25ab82"/>
<rect x="121" y="161" width="5" height="6" fill="#4ec36b"/>
<rect x="126" y="161" width="6" height="6" fill="#5ac864"/>
<rect x="132" y="161" width="5" height="6" fill="#21a585"/>
<rect x="137" y="161" width="5" height="6" fill="#1f9e89"/>
<rect x="142" y="161" width="6" height="6" fill="#297b8e"/>
<rect x="148" y="161" width="5" height="6" fill="#1f9e89"/>
<rect x="153" y="161" width="6" height="6" fill="#26828e"/>
<rect x="159" y="161" width="5" height="6" fill="#25ab82"/>
<rect x="164" y="161" width="6" height="6" fill="#3fbc73"/>
<rect x="170" y="161" width="5" height="6" fill="#277e8e"/>
<rect x="175" y="161" width="6" height="6" fill="#20928c"/>
<rect x="181" y="161" width="5" height="6" fill="#414487"/>
<rect x="851" y="32" width="13" height="12" fill="#6ece58"/>
<rect x="864" y="32" width="13" height="12" fill="#1f9e89"/>
<rect x="877" y="32" width="14" height="12" fill="#35b779"/>
<rect x="891" y="32" width="13" height="12" fill="#1f9e89"/>
<rect x="904" y="32" width="13" height="12" fill="#35b779"/>
<rect x="917" y="32" width="13" height="12" fill="#26828e"/>
<rect x="930" y="32" width="13" height="12" fill="#1f9e89"/>
<rect x="943" y="32" width="14" height="12" fill="#1f9e89"/>
<rect x="957" y="32" width="13" height="12" fill="#35b779"/>
<rect x="970" y="32" width="13" height="12" fill="#3e4989"/>
<rect x="983" y="32" width="13" height="12" fill="#6ece58"/>
<rect x="996" y="32" width="13" height="12" fill="#1f9e89"/>
<rect x="1009" y="32" width="13" height="12" fill="#6ece58"/>
<rect x="1022" y="32" width="14" height="12" fill="#2b758e"/>
<rect x="1036" y="32" width="13" height="12" fill="#2b758e"/>
<rect x="1049" y="32" width="13" height="12" fill="#21918c"/>
<rect x="1062" y="32" width="13" height="12" fill="#35b779"/>
<rect x="1075" y="32" width="13" height="12" fill="#4ec36b"/>
<rect x="1088" y="32" width="14" height="12" fill="#31688e"/>
<rect x="1102" y="32" width="13" height="12" fill="#482878"/>
<rect x="1115" y="32" width="13" height="12" fill="#21918c"/>
<rect x="1128" y="32" width="13" height="12" fill="#26828e"/>
<rect x="1141" y="32" width="13" height="12" fill="#25ab82"/>
<rect x="1154" y="32" width="14" height="12" fill="#21918c"/>
<rect x="1168" y="32" width="13" height="12" fill="#6ece58"/>
<rect x="851" y="44" width="13" height="13" fill="#26828e"/>
<rect x="864" y="44" width="13" height="13" fill="#3e4989"/>
<rect x="877" y="44" width="14" height="13" fill="#25ab82"/>
<rect x="891" y="44" width="13" height="13" fill="#25ab82"/>
<rect x="904" y="44" width="13" height="13" fill="#4ec36b"/>
<rect x="917" y="44" width="13" height="13" fill="#482878"/>
<rect x="930" y="44" width="13" height="13" fill="#2db27d"/>
<rect x="943" y="44" width="14" height="13" fill="#35b779"/>
<rect x="957" y="44" width="13" height="13" fill="#2b758e"/>
<rect x="970" y="44" width="13" height="13" fill="#35b779"/>
<rect x="983" y="44" width="13" height="13" fill="#4ec36b"/>
<rect x="996" y="44" width="13" height="13" fill="#25ab82"/>
<rect x="1009" y="44" width="13" height="13" fill="#26828e"/>
<rect x="1022" y="44" width="14" height="13" fill="#26828e"/>
<rect x="1036" y="44" width="13" height="13" fill="#4ec36b"/>
<rect x="1049" y="44" width="13" height="13" fill="#1f9e89"/>
<rect x="1062" y="44" width="13" height="13" fill="#26828e"/>
<rect x="1075" y="44" width="13" height="13" fill="#4ec36b"/>
<rect x="1088" y="44" width="14" height="13" fill="#4ec36b"/>
<rect x="1102" y="44" width="13" height="13" fill="#2b758e"/>
<rect x="1115" y="44" width="13" height="13" fill="#25ab82"/>
<rect x="1128" y="44" width="13" height="13" fill="#25ab82"/>
<rect x="1141" y="44" width="13" height="13" fill="#4ec36b"/>
<rect x="1154" y="44" width="14" height="13" fill="#440154"/>
<rect x="1168" y="44" width="13" height="13" fill="#1f9e89"/>
<rect x="851" y="57" width="13" height="14" fill="#2b758e"/>
<rect x="864" y="57" width="13" height="14" fill="#35b779"/>
<rect x="877" y="57" width="14" height="14" fill="#31688e"/>
<rect x="891" y="57" width="13" height="14" fill="#21918c"/>
<rect x="904" y="57" width="13" height="14" fill="#25ab82"/>
<rect x="917" y="57" width="13" height="14" fill="#25ab82"/>
<rect x="930" y="57" width="13" height="14" fill="#1f9e89"/>
<rect x="943" y="57" width="14" height="14" fill="#25ab82"/>
<rect x="957" y="57" width="13" height="14" fill="#21918c"/>
<rect x="970" y="57" width="13" height="14" fill="#6ece58"/>
<rect x="983" y="57" width="13" height="14" fill="#6ece58"/>
<rect x="996" y="57" width="13" height="14" fill="#6ece58"/>
<rect x="1009" y="57" width="13" height="14" fill="#26828e"/>
<rect x="1022" y="57" width="14" height="14" fill="#3e4989"/>
<rect x="1036" y="57" width="13" height="14" fill="#2b758e"/>
<rect x="1049" y="57" width="13" height="14" fill="#25ab82"/>
<rect x="1062" y="57" width="13" height="14" fill="#1f9e89"/>
<rect x="1075" y="57" width="13" height="14" fill="#1f9e89"/>
<rect x="1088" y="57" width="14" height="14" fill="#440154"/>
<rect x="1102" y="57" width="13" height="14" fill="#1f9e89"/>
<rect x="1115" y="57" width="13" height="14" fill="#1f9e89"/>
<rect x="1128" y="57" width="13" height="14" fill="#35b779"/>
<rect x="1141" y="57" width="13" height="14" fill="#1f9e89"/>
<rect x="1154" y="57" width="14" height="14" fill="#1f9e89"/>
<rect x="1168" y="57" width="13" height="14" fill="#25ab82"/>
<rect x="851" y="71" width="13" height="13" fill="#25ab82"/>
<rect x="864" y="71" width="13" height="13" fill="#35b779"/>
<rect x="877" y="71" width="14" height="13" fill="#90d743"/>
<rect x="891" y="71" width="13" height="13" fill="#4ec36b"/>
<rect x="904" y="71" width="13" height="13" fill="#4ec36b"/>
<rect x="917" y="71" width="13" height="13" fill="#35b779"/>
<rect x="930" y="71" width="13" height="13" fill="#443983"/>
<rect x="943" y="71" width="14" height="13" fill="#90d743"/>
<rect x="957" y="71" width="13" height="13" fill="#2b758e"/>
<rect x="970" y="71" width="13" height="13" fill="#1f9e89"/>
<rect x="983" y="71" width="13" height="13" fill="#1f9e89"/>
<rect x="996" y="71" width="13" height="13" fill="#6ece58"/>
<rect x="1009" y="71" width="13" height="13" fill="#1f9e89"/>
<rect x="1022" y="71" width="14" height="13" fill="#25ab82"/>
<rect x="1036" y="71" width="13" height="13" fill="#26828e"/>
<rect x="1049" y="71" width="13" height="13" fill="#26828e"/>
<rect x="1062" y="71" width="13" height="13" fill="#4ec36b"/>
<rect x="1075" y="71" width="13" height="13" fill="#1f9e89"/>
<rect x="1088" y="71" width="14" height="13" fill="#2b758e"/>
<rect x="1102" y="71" width="13" height="13" fill="#4ec36b"/>
<rect x="1115" y="71" width="13" height="13" fill="#1f9e89"/>
<rect x="1128" y="71" width="13" height="13" fill="#35b779"/>
<rect x="1141" y="71" width="13" height="13" fill="#4ec36b"/>
<rect x="1154" y="71" width="14" height="13" fill="#440154"/>
<rect x="1168" y="71" width="13" height="13" fill="#1f9e89"/>
<rect x="851" y="84" width="13" height="13" fill="#35b779"/>
<rect x="864" y="84" width="13" height="13" fill="#21918c"/>
<rect x="877" y="84" width="14" height="13" fill="#1f9e89"/>
<rect x="891" y="84" width="13" height="13" fill="#1f9e89"/>
<rect x="904" y="84" width="13" height="13" fill="#4ec36b"/>
<rect x="917" y="84" width="13" height="13" fill="#21918c"/>
<rect x="930" y="84" width="13" height="13" fill="#21918c"/>
<rect x="943" y="84" width="14" height="13" fill="#35b779"/>
<rect x="957" y="84" width="13" height="13" fill="#35b779"/>
<rect x="970" y="84" width="13" height="13" fill="#90d743"/>
<rect x="983" y="84" width="13" height="13" fill="#4ec36b"/>
<rect x="996" y="84" width="13" height="13" fill="#4ec36b"/>
<rect x="1009" y="84" width="13" height="13" fill="#35b779"/>
<rect x="1022" y="84" width="14" height="13" fill="#2b758e"/>
<rect x="1036" y="84" width="13" height="13" fill="#2b758e"/>
<rect x="1049" y="84" width="13" height="13" fill="#4ec36b"/>
<rect x="1062" y="84" width="13" height="13" fill="#35b779"/>
<rect x="1075" y="84" width="13" height="13" fill="#21918c"/>
<rect x="1088" y="84" width="14" height="13" fill="#35b779"/>
<rect x="1102" y="84" width="13" height="13" fill="#35b779"/>
<rect x="1115" y="84" width="13" height="13" fill="#35b779"/>
<rect x="1128" y="84" width="13" height="13" fill="#2b758e"/>
<rect x="1141" y="84" width="13" height="13" fill="#1f9e89"/>
<rect x="1154" y="84" width="14" height="13" fill="#1f9e89"/>
<rect x="1168" y="84" width="13" height="13" fill="#25ab82"/>
<rect x="851" y="97" width="13" height="13" fill="#6ece58"/>
<rect x="864" y="97" width="13" height="13" fill="#6ece58"/>
<rect x="877" y="97" width="14" height="13" fill="#21918c"/>
<rect x="891" y="97" width="13" height="13" fill="#21918c"/>
<rect x="904" y="97" width="13" height="13" fill="#21918c"/>
<rect x="917" y="97" width="13" height="13" fill="#4ec36b"/>
<rect x="930" y="97" width="13" height="13" fill="#35b779"/>
<rect x="943" y="97" width="14" height="13" fill="#90d743"/>
<rect x="957" y="97" width="13" height="13" fill="#6ece58"/>
<rect x="970" y="97" width="13" height="13" fill="#2b758e"/>
<rect x="983" y="97" width="13" height="13" fill="#21918c"/>
<rect x="996" y="97" width="13" height="13" fill="#4ec36b"/>
<rect x="1009" y="97" width="13" height="13" fill="#21918c"/>
<rect x="1022" y="97" width="14" height="13" fill="#21918c"/>
<rect x="1036" y="97" width="13" height="13" fill="#26828e"/>
<rect x="1049" y="97" width="13" height="13" fill="#35b779"/>
<rect x="1062" y="97" width="13" height="13" fill="#4ec36b"/>
<rect x="1075" y="97" width="13" height="13" fill="#21918c"/>
<rect x="1088" y="97" width="14" height="13" fill="#440154"/>
<rect x="1102" y="97" width="13" height="13" fill="#35b779"/>
<rect x="1115" y="97" width="13" height="13" fill="#4ec36b"/>
<rect x="1128" y="97" width="13" height="13" fill="#440154"/>
<rect x="1141" y="97" width="13" height="13" fill="#3e4989"/>
<rect x="1154" y="97" width="14" height="13" fill="#4ec36b"/>
<rect x="1168" y="97" width="13" height="13" fill="#443983"/>
<rect x="851" y="110" width="13" height="14" fill="#2b758e"/>
<rect x="864" y="110" width="13" height="14" fill="#4ec36b"/>
<rect x="877" y="110" width="14" height="14" fill="#35b779"/>
<rect x="891" y="110" width="13" height="14" fill="#2b758e"/>
<rect x="904" y="110" width="13" height="14" fill="#2b758e"/>
<rect x="917" y="110" width="13" height="14" fill="#35b779"/>
<rect x="930" y="110" width="13" height="14" fill="#21918c"/>
<rect x="943" y="110" width="14" height="14" fill="#21918c"/>
<rect x="957" y="110" width="13" height="14" fill="#4ec36b"/>
<rect x="970" y="110" width="13" height="14" fill="#31688e"/>
<rect x="983" y="110" width="13" height="14" fill="#3e4989"/>
<rect x="996" y="110" width="13" height="14" fill="#b5de2b"/>
<rect x="1009" y="110" width="13" height="14" fill="#21918c"/>
<rect x="1022" y="110" width="14" height="14" fill="#6ece58"/>
<rect x="1036" y="110" width="13" height="14" fill="#21918c"/>
<rect x="1049" y="110" width="13" height="14" fill="#26828e"/>
<rect x="1062" y="110" width="13" height="14" fill="#90d743"/>
<rect x="1075" y="110" width="13" height="14" fill="#4ec36b"/>
<rect x="1088" y="110" width="14" height="14" fill="#2b758e"/>
<rect x="1102" y="110" width="13" height="14" fill="#1f9e89"/>
<rect x="1115" y="110" width="13" height="14" fill="#21918c"/>
<rect x="1128" y="110" width="13" height="14" fill="#21918c"/>
<rect x="1141" y="110" width="13" height="14" fill="#1f9e89"/>
<rect x="1154" y="110" width="14" height="14" fill="#25ab82"/>
<rect x="1168" y="110" width="13" height="14" fill="#4ec36b"/>
<rect x="851" y="124" width="13" height="13" fill="#2b758e"/>
<rect x="864" y="124" width="13" height="13" fill="#26828e"/>
<rect x="877" y="124" width="14" height="13" fill="#1f9e89"/>
<rect x="891" y="124" width="13" height="13" fill="#25ab82"/>
<rect x="904" y="124" width="13" height="13" fill="#21918c"/>
<rect x="917" y="124" width="13" height="13" fill="#4ec36b"/>
<rect x="930" y="124" width="13" height="13" fill="#6ece58"/>
<rect x="943" y="124" width="14" height="13" fill="#440154"/>
<rect x="957" y="124" width="13" height="13" fill="#21918c"/>
<rect x="970" y="124" width="13" height="13" fill="#25ab82"/>
<rect x="983" y="124" width="13" height="13" fill="#31688e"/>
<rect x="996" y="124" width="13" height="13" fill="#2b758e"/>
<rect x="1009" y="124" width="13" height="13" fill="#21918c"/>
<rect x="1022" y="124" width="14" height="13" fill="#21918c"/>
<rect x="1036" y="124" width="13" height="13" fill="#4ec36b"/>
<rect x="1049" y="124" width="13" height="13" fill="#4ec36b"/>
<rect x="1062" y="124" width="13" height="13" fill="#35b779"/>
<rect x="1075" y="124" width="13" height="13" fill="#25ab82"/>
<rect x="1088" y="124" width="14" height="13" fill="#35b779"/>
<rect x="1102" y="124" width="13" height="13" fill="#31688e"/>
<rect x="1115" y="124" width="13" height="13" fill="#4ec36b"/>
<rect x="1128" y="124" width="13" height="13" fill="#4ec36b"/>
<rect x="1141" y="124" width="13" height="13" fill="#4ec36b"/>
<rect x="1154" y="124" width="14" height="13" fill="#25ab82"/>
<rect x="1168" y="124" width="13" height="13" fill="#90d743"/>
<rect x="851" y="137" width="13" height="13" fill="#443983"/>
<rect x="864" y="137" width="13" height="13" fill="#21918c"/>
<rect x="877" y="137" width="14" height="13" fill="#25ab82"/>
<rect x="891" y="137" width="13" height="13" fill="#440154"/>
<rect x="904" y="137" width="13" height="13" fill="#31688e"/>
<rect x="917" y="137" width="13" height="13" fill="#4ec36b"/>
<rect x="930" y="137" width="13" height="13" fill="#4ec36b"/>
<rect x="943" y="137" width="14" height="13" fill="#1f9e89"/>
<rect x="957" y="137" width="13" height="13" fill="#4ec36b"/>
<rect x="970" y="137" width="13" height="13" fill="#1f9e89"/>
<rect x="983" y="137" width="13" height="13" fill="#4ec36b"/>
<rect x="996" y="137" width="13" height="13" fill="#1f9e89"/>
<rect x="1009" y="137" width="13" height="13" fill="#2b758e"/>
<rect x="1022" y="137" width="14" height="13" fill="#3e4989"/>
<rect x="1036" y="137" width="13" height="13" fill="#4ec36b"/>
<rect x="1049" y="137" width="13" height="13" fill="#6ece58"/>
<rect x="1062" y="137" width="13" height="13" fill="#1f9e89"/>
<rect x="1075" y="137" width="13" height="13" fill="#b5de2b"/>
<rect x="1088" y="137" width="14" height="13" fill="#1f9e89"/>
<rect x="1102" y="137" width="13" height="13" fill="#3e4989"/>
<rect x="1115" y="137" width="13" height="13" fill="#4ec36b"/>
<rect x="1128" y="137" width="13" height="13" fill="#482878"/>
<rect x="1141" y="137" width="13" height="13" fill="#26828e"/>
<rect x="1154" y="137" width="14" height="13" fill="#4ec36b"/>
<rect x="1168" y="137" width="13" height="13" fill="#35b779"/>
<rect x="851" y="150" width="13" height="13" fill="#1f9e89"/>
<rect x="864" y="150" width="13" height="13" fill="#4ec36b"/>
<rect x="877" y="150" width="14" height="13" fill="#35b779"/>
<rect x="891" y="150" width="13" height="13" fill="#26828e"/>
<rect x="904" y="150" width="13" height="13" fill="#2b758e"/>
<rect x="917" y="150" width="13" height="13" fill="#21918c"/>
<rect x="930" y="150" width="13" height="13" fill="#6ece58"/>
<rect x="943" y="150" width="14" height="13" fill="#35b779"/>
<rect x="957" y="150" width="13" height="13" fill="#31688e"/>
<rect x="970" y="150" width="13" height="13" fill="#2b758e"/>
<rect x="983" y="150" width="13" height="13" fill="#25ab82"/>
<rect x="996" y="150" width="13" height="13" fill="#35b779"/>
<rect x="1009" y="150" width="13" height="13" fill="#4ec36b"/>
<rect x="1022" y="150" width="14" height="13" fill="#90d743"/>
<rect x="1036" y="150" width="13" height="13" fill="#b5de2b"/>
<rect x="1049" y="150" width="13" height="13" fill="#b5de2b"/>
<rect x="1062" y="150" width="13" height="13" fill="#fde725"/>
<rect x="1075" y="150" width="13" height="13" fill="#b5de2b"/>
<rect x="1088" y="150" width="14" height="13" fill="#6ece58"/>
<rect x="1102" y="150" width="13" height="13" fill="#b5de2b"/>
<rect x="1115" y="150" width="13" height="13" fill="#25ab82"/>
<rect x="1128" y="150" width="13" height="13" fill="#25ab82"/>
<rect x="1141" y="150" width="13" height="13" fill="#4ec36b"/>
<rect x="1154" y="150" width="14" height="13" fill="#4ec36b"/>
<rect x="1168" y="150" width="13" height="13" fill="#1f9e89"/>
<rect x="851" y="163" width="13" height="14" fill="#25ab82"/>
<rect x="864" y="163" width="13" height="14" fill="#4ec36b"/>
<rect x="877" y="163" width="14" height="14" fill="#b5de2b"/>
<rect x="891" y="163" width="13" height="14" fill="#4ec36b"/>
<rect x="904" y="163" width="13" height="14" fill="#2b758e"/>
<rect x="917" y="163" width="13" height="14" fill="#21918c"/>
<rect x="930" y="163" width="13" height="14" fill="#25ab82"/>
<rect x="943" y="163" width="14" height="14" fill="#35b779"/>
<rect x="957" y="163" width="13" height="14" fill="#35b779"/>
<rect x="970" y="163" width="13" height="14" fill="#25ab82"/>
<rect x="983" y="163" width="13" height="14" fill="#4ec36b"/>
<rect x="996" y="163" width="13" height="14" fill="#6ece58"/>
<rect x="1009" y="163" width="13" height="14" fill="#6ece58"/>
<rect x="1022" y="163" width="14" height="14" fill="#dae319"/>
<rect x="1036" y="163" width="13" height="14" fill="#90d743"/>
<rect x="1049" y="163" width="13" height="14" fill="#dae319"/>
<rect x="1062" y="163" width="13" height="14" fill="#dae319"/>
<rect x="1075" y="163" width="13" height="14" fill="#fde725"/>
<rect x="1088" y="163" width="14" height="14" fill="#90d743"/>
<rect x="1102" y="163" width="13" height="14" fill="#4ec36b"/>
<rect x="1115" y="163" width="13" height="14" fill="#26828e"/>
<rect x="1128" y="163" width="13" height="14" fill="#21918c"/>
<rect x="1141" y="163" width="13" height="14" fill="#21918c"/>
<rect x="1154" y="163" width="14" height="14" fill="#3e4989"/>
<rect x="1168" y="163" width="13" height="14" fill="#2b758e"/>
<rect x="851" y="177" width="13" height="13" fill="#1f9e89"/>
<rect x="864" y="177" width="13" height="13" fill="#25ab82"/>
<rect x="877" y="177" width="14" height="13" fill="#6ece58"/>
<rect x="891" y="177" width="13" height="13" fill="#3e4989"/>
<rect x="904" y="177" width="13" height="13" fill="#21918c"/>
<rect x="917" y="177" width="13" height="13" fill="#35b779"/>
<rect x="930" y="177" width="13" height="13" fill="#4ec36b"/>
<rect x="943" y="177" width="14" height="13" fill="#6ece58"/>
<rect x="957" y="177" width="13" height="13" fill="#35b779"/>
<rect x="970" y="177" width="13" height="13" fill="#25ab82"/>
<rect x="983" y="177" width="13" height="13" fill="#90d743"/>
<rect x="996" y="177" width="13" height="13" fill="#dae319"/>
<rect x="1009" y="177" width="13" height="13" fill="#90d743"/>
<rect x="1022" y="177" width="14" height="13" fill="#cde11d"/>
<rect x="1036" y="177" width="13" height="13" fill="#eae51a"/>
<rect x="1049" y="177" width="13" height="13" fill="#fde725"/>
<rect x="1062" y="177" width="13" height="13" fill="#dae319"/>
<rect x="1075" y="177" width="13" height="13" fill="#fde725"/>
<rect x="1088" y="177" width="14" height="13" fill="#cde11d"/>
<rect x="1102" y="177" width="13" height="13" fill="#90d743"/>
<rect x="1115" y="177" width="13" height="13" fill="#482878"/>
<rect x="1128" y="177" width="13" height="13" fill="#35b779"/>
<rect x="1141" y="177" width="13" height="13" fill="#25ab82"/>
<rect x="1154" y="177" width="14" height="13" fill="#1f9e89"/>
<rect x="1168" y="177" width="13" height="13" fill="#1f9e89"/>
<rect x="851" y="190" width="13" height="13" fill="#2b758e"/>
<rect x="864" y="190" width="13" height="13" fill="#26828e"/>
<rect x="877" y="190" width="14" height="13" fill="#4ec36b"/>
<rect x="891" y="190" width="13" height="13" fill="#1f9e89"/>
<rect x="904" y="190" width="13" height="13" fill="#1f9e89"/>
<rect x="917" y="190" width="13" height="13" fill="#3e4989"/>
<rect x="930" y="190" width="13" height="13" fill="#21918c"/>
<rect x="943" y="190" width="14" height="13" fill="#1f9e89"/>
<rect x="957" y="190" width="13" height="13" fill="#35b779"/>
<rect x="970" y="190" width="13" height="13" fill="#25ab82"/>
<rect x="983" y="190" width="13" height="13" fill="#90d743"/>
<rect x="996" y="190" width="13" height="13" fill="#b5de2b"/>
<rect x="1009" y="190" width="13" height="13" fill="#b5de2b"/>
<rect x="1022" y="190" width="14" height="13" fill="#fde725"/>
<rect x="1036" y="190" width="13" height="13" fill="#b5de2b"/>
<rect x="1049" y="190" width="13" height="13" fill="#b5de2b"/>
<rect x="1062" y="190" width="13" height="13" fill="#fde725"/>
<rect x="1075" y="190" width="13" height="13" fill="#fde725"/>
<rect x="1088" y="190" width="14" height="13" fill="#cde11d"/>
<rect x="1102" y="190" width="13" height="13" fill="#b5de2b"/>
<rect x="1115" y="190" width="13" height="13" fill="#4ec36b"/>
<rect x="1128" y="190" width="13" height="13" fill="#21918c"/>
<rect x="1141" y="190" width="13" height="13" fill="#21918c"/>
<rect x="1154" y="190" width="14" height="13" fill="#35b779"/>
<rect x="1168" y="190" width="13" height="13" fill="#26828e"/>
<rect x="851" y="203" width="13" height="13" fill="#2b758e"/>
<rect x="864" y="203" width="13" height="13" fill="#21918c"/>
<rect x="877" y="203" width="14" height="13" fill="#31688e"/>
<rect x="891" y="203" width="13" height="13" fill="#26828e"/>
<rect x="904" y="203" width="13" height="13" fill="#21918c"/>
<rect x="917" y="203" width="13" height="13" fill="#4ec36b"/>
<rect x="930" y="203" width="13" height="13" fill="#1f9e89"/>
<rect x="943" y="203" width="14" height="13" fill="#1f9e89"/>
<rect x="957" y="203" width="13" height="13" fill="#1f9e89"/>
<rect x="970" y="203" width="13" height="13" fill="#35b779"/>
<rect x="983" y="203" width="13" height="13" fill="#fde725"/>
<rect x="996" y="203" width="13" height="13" fill="#b5de2b"/>
<rect x="1009" y="203" width="13" height="13" fill="#dae319"/>
<rect x="1022" y="203" width="14" height="13" fill="#fde725"/>
<rect x="1036" y="203" width="13" height="13" fill="#dae319"/>
<rect x="1049" y="203" width="13" height="13" fill="#cde11d"/>
<rect x="1062" y="203" width="13" height="13" fill="#90d743"/>
<rect x="1075" y="203" width="13" height="13" fill="#90d743"/>
<rect x="1088" y="203" width="14" height="13" fill="#35b779"/>
<rect x="1102" y="203" width="13" height="13" fill="#4ec36b"/>
<rect x="1115" y="203" width="13" height="13" fill="#26828e"/>
<rect x="1128" y="203" width="13" height="13" fill="#26828e"/>
<rect x="1141" y="203" width="13" height="13" fill="#21918c"/>
<rect x="1154" y="203" width="14" height="13" fill="#90d743"/>
<rect x="1168" y="203" width="13" height="13" fill="#1f9e89"/>
<rect x="851" y="216" width="13" height="14" fill="#1f9e89"/>
<rect x="864" y="216" width="13" height="14" fill="#4ec36b"/>
<rect x="877" y="216" width="14" height="14" fill="#21918c"/>
<rect x="891" y="216" width="13" height="14" fill="#3e4989"/>
<rect x="904" y="216" width="13" height="14" fill="#21918c"/>
<rect x="917" y="216" width="13" height="14" fill="#35b779"/>
<rect x="930" y="216" width="13" height="14" fill="#25ab82"/>
<rect x="943" y="216" width="14" height="14" fill="#25ab82"/>
<rect x="957" y="216" width="13" height="14" fill="#4ec36b"/>
<rect x="970" y="216" width="13" height="14" fill="#35b779"/>
<rect x="983" y="216" width="13" height="14" fill="#90d743"/>
<rect x="996" y="216" width="13" height="14" fill="#eae51a"/>
<rect x="1009" y="216" width="13" height="14" fill="#c5e021"/>
<rect x="1022" y="216" width="14" height="14" fill="#eae51a"/>
<rect x="1036" y="216" width="13" height="14" fill="#dae319"/>
<rect x="1049" y="216" width="13" height="14" fill="#90d743"/>
<rect x="1062" y="216" width="13" height="14" fill="#a0da39"/>
<rect x="1075" y="216" width="13" height="14" fill="#25ab82"/>
<rect x="1088" y="216" width="14" height="14" fill="#35b779"/>
<rect x="1102" y="216" width="13" height="14" fill="#2b758e"/>
<rect x="1115" y="216" width="13" height="14" fill="#26828e"/>
<rect x="1128" y="216" width="13" height="14" fill="#35b779"/>
<rect x="1141" y="216" width="13" height="14" fill="#25ab82"/>
<rect x="1154" y="216" width="14" height="14" fill="#25ab82"/>
<rect x="1168" y="216" width="13" height="14" fill="#2b758e"/>
<rect x="851" y="230" width="13" height="13" fill="#25ab82"/>
<rect x="864" y="230" width="13" height="13" fill="#1f9e89"/>
<rect x="877" y="230" width="14" height="13" fill="#a0da39"/>
<rect x="891" y="230" width="13" height="13" fill="#1f9e89"/>
<rect x="904" y="230" width="13" height="13" fill="#228b8d"/>
<rect x="917" y="230" width="13" height="13" fill="#3e4989"/>
<rect x="930" y="230" width="13" height="13" fill="#21918c"/>
<rect x="943" y="230" width="14" height="13" fill="#21918c"/>
<rect x="957" y="230" width="13" height="13" fill="#6ece58"/>
<rect x="970" y="230" width="13" height="13" fill="#a0da39"/>
<rect x="983" y="230" width="13" height="13" fill="#90d743"/>
<rect x="996" y="230" width="13" height="13" fill="#6ece58"/>
<rect x="1009" y="230" width="13" height="13" fill="#60ca60"/>
<rect x="1022" y="230" width="14" height="13" fill="#b5de2b"/>
<rect x="1036" y="230" width="13" height="13" fill="#25ab82"/>
<rect x="1049" y="230" width="13" height="13" fill="#81d34d"/>
<rect x="1062" y="230" width="13" height="13" fill="#5ac864"/>
<rect x="1075" y="230" width="13" height="13" fill="#7ad151"/>
<rect x="1088" y="230" width="14" height="13" fill="#4ec36b"/>
<rect x="1102" y="230" width="13" height="13" fill="#1f9e89"/>
<rect x="1115" y="230" width="13" height="13" fill="#25ab82"/>
<rect x="1128" y="230" width="13" height="13" fill="#6ece58"/>
<rect x="1141" y="230" width="13" height="13" fill="#35b779"/>
<rect x="1154" y="230" width="14" height="13" fill="#1f9e89"/>
<rect x="1168" y="230" width="13" height="13" fill="#277e8e"/>
<rect x="851" y="243" width="13" height="13" fill="#1f9e89"/>
<rect x="864" y="243" width="13" height="13" fill="#60ca60"/>
<rect x="877" y="243" width="14" height="13" fill="#44bf70"/>
<rect x="891" y="243" width="13" height="13" fill="#21918c"/>
<rect x="904" y="243" width="13" height="13" fill="#35b779"/>
<rect x="917" y="243" width="13" height="13" fill="#21918c"/>
<rect x="930" y="243" width="13" height="13" fill="#228b8d"/>
<rect x="943" y="243" width="14" height="13" fill="#1f988b"/>
<rect x="957" y="243" width="13" height="13" fill="#21918c"/>
<rect x="970" y="243" width="13" height="13" fill="#25ab82"/>
<rect x="983" y="243" width="13" height="13" fill="#25ab82"/>
<rect x="996" y="243" width="13" height="13" fill="#1f9e89"/>
<rect x="1009" y="243" width="13" height="13" fill="#60ca60"/>
<rect x="1022" y="243" width="14" height="13" fill="#44bf70"/>
<rect x="1036" y="243" width="13" height="13" fill="#277e8e"/>
<rect x="1049" y="243" width="13" height="13" fill="#1f9e89"/>
<rect x="1062" y="243" width="13" height="13" fill="#1f9e89"/>
<rect x="1075" y="243" width="13" height="13" fill="#1f9e89"/>
<rect x="1088" y="243" width="14" height="13" fill="#26828e"/>
<rect x="1102" y="243" width="13" height="13" fill="#1f9e89"/>
<rect x="1115" y="243" width="13" height="13" fill="#23888e"/>
<rect x="1128" y="243" width="13" height="13" fill="#44bf70"/>
<rect x="1141" y="243" width="13" height="13" fill="#a0da39"/>
<rect x="1154" y="243" width="14" height="13" fill="#2d708e"/>
<rect x="1168" y="243" width="13" height="13" fill="#440154"/>
<rect x="851" y="256" width="13" height="13" fill="#21918c"/>
<rect x="864" y="256" width="13" height="13" fill="#4ec36b"/>
<rect x="877" y="256" width="14" height="13" fill="#21918c"/>
<rect x="891" y="256" width="13" height="13" fill="#21918c"/>
<rect x="904" y="256" width="13" height="13" fill="#31688e"/>
<rect x="917" y="256" width="13" height="13" fill="#21918c"/>
<rect x="930" y="256" width="13" height="13" fill="#6ece58"/>
<rect x="943" y="256" width="14" height="13" fill="#23888e"/>
<rect x="957" y="256" width="13" height="13" fill="#3fbc73"/>
<rect x="970" y="256" width="13" height="13" fill="#3fbc73"/>
<rect x="983" y="256" width="13" height="13" fill="#3fbc73"/>
<rect x="996" y="256" width="13" height="13" fill="#60ca60"/>
<rect x="1009" y="256" width="13" height="13" fill="#35b779"/>
<rect x="1022" y="256" width="14" height="13" fill="#1f9e89"/>
<rect x="1036" y="256" width="13" height="13" fill="#35b779"/>
<rect x="1049" y="256" width="13" height="13" fill="#a5db36"/>
<rect x="1062" y="256" width="13" height="13" fill="#60ca60"/>
<rect x="1075" y="256" width="13" height="13" fill="#23888e"/>
<rect x="1088" y="256" width="14" height="13" fill="#26828e"/>
<rect x="1102" y="256" width="13" height="13" fill="#5ac864"/>
<rect x="1115" y="256" width="13" height="13" fill="#1f9e89"/>
<rect x="1128" y="256" width="13" height="13" fill="#31688e"/>
<rect x="1141" y="256" width="13" height="13" fill="#4ec36b"/>
<rect x="1154" y="256" width="14" height="13" fill="#35b779"/>
<rect x="1168" y="256" width="13" height="13" fill="#25ab82"/>
<rect x="851" y="269" width="13" height="14" fill="#35b779"/>
<rect x="864" y="269" width="13" height="14" fill="#44bf70"/>
<rect x="877" y="269" width="14" height="14" fill="#1f988b"/>
<rect x="891" y="269" width="13" height="14" fill="#60ca60"/>
<rect x="904" y="269" width="13" height="14" fill="#3e4989"/>
<rect x="917" y="269" width="13" height="14" fill="#1f9e89"/>
<rect x="930" y="269" width="13" height="14" fill="#21a585"/>
<rect x="943" y="269" width="14" height="14" fill="#35b779"/>
<rect x="957" y="269" width="13" height="14" fill="#23888e"/>
<rect x="970" y="269" width="13" height="14" fill="#1f988b"/>
<rect x="983" y="269" width="13" height="14" fill="#21a585"/>
<rect x="996" y="269" width="13" height="14" fill="#1f9e89"/>
<rect x="1009" y="269" width="13" height="14" fill="#1f9e89"/>
<rect x="1022" y="269" width="14" height="14" fill="#1f988b"/>
<rect x="1036" y="269" width="13" height="14" fill="#4ec36b"/>
<rect x="1049" y="269" width="13" height="14" fill="#1fa287"/>
<rect x="1062" y="269" width="13" height="14" fill="#3fbc73"/>
<rect x="1075" y="269" width="13" height="14" fill="#2ab07f"/>
<rect x="1088" y="269" width="14" height="14" fill="#2e6e8e"/>
<rect x="1102" y="269" width="13" height="14" fill="#3fbc73"/>
<rect x="1115" y="269" width="13" height="14" fill="#4ec36b"/>
<rect x="1128" y="269" width="13" height="14" fill="#1f9e89"/>
<rect x="1141" y="269" width="13" height="14" fill="#25ab82"/>
<rect x="1154" y="269" width="14" height="14" fill="#23888e"/>
<rect x="1168" y="269" width="13" height="14" fill="#1f9e89"/>
<rect x="851" y="283" width="13" height="13" fill="#6ece58"/>
<rect x="864" y="283" width="13" height="13" fill="#1f988b"/>
<rect x="877" y="283" width="14" height="13" fill="#277e8e"/>
<rect x="891" y="283" width="13" height="13" fill="#35b779"/>
<rect x="904" y="283" width="13" height="13" fill="#21a585"/>
<rect x="917" y="283" width="13" height="13" fill="#2db27d"/>
<rect x="930" y="283" width="13" height="13" fill="#2d708e"/>
<rect x="943" y="283" width="14" height="13" fill="#3fbc73"/>
<rect x="957" y="283" width="13" height="13" fill="#375a8c"/>
<rect x="970" y="283" width="13" height="13" fill="#228b8d"/>
<rect x="983" y="283" width="13" height="13" fill="#297b8e"/>
<rect x="996" y="283" width="13" height="13" fill="#26828e"/>
<rect x="1009" y="283" width="13" height="13" fill="#a5db36"/>
<rect x="1022" y="283" width="14" height="13" fill="#21a585"/>
<rect x="1036" y="283" width="13" height="13" fill="#1f9e89"/>
<rect x="1049" y="283" width="13" height="13" fill="#4ec36b"/>
<rect x="1062" y="283" width="13" height="13" fill="#1f9e89"/>
<rect x="1075" y="283" width="13" height="13" fill="#1f9e89"/>
<rect x="1088" y="283" width="14" height="13" fill="#297b8e"/>
<rect x="1102" y="283" width="13" height="13" fill="#2db27d"/>
<rect x="1115" y="283" width="13" height="13" fill="#67cc5c"/>
<rect x="1128" y="283" width="13" height="13" fill="#60ca60"/>
<rect x="1141" y="283" width="13" height="13" fill="#3fbc73"/>
<rect x="1154" y="283" width="14" height="13" fill="#3e4989"/>
<rect x="1168" y="283" width="13" height="13" fill="#3e4989"/>
<rect x="851" y="296" width="13" height="13" fill="#44bf70"/>
<rect x="864" y="296" width="13" height="13" fill="#297b8e"/>
<rect x="877" y="296" width="14" height="13" fill="#297b8e"/>
<rect x="891" y="296" width="13" height="13" fill="#44bf70"/>
<rect x="904" y="296" width="13" height="13" fill="#1f9e89"/>
<rect x="917" y="296" width="13" height="13" fill="#5ac864"/>
<rect x="930" y="296" width="13" height="13" fill="#35b779"/>
<rect x="943" y="296" width="14" height="13" fill="#1f9e89"/>
<rect x="957" y="296" width="13" height="13" fill="#44bf70"/>
<rect x="970" y="296" width="13" height="13" fill="#81d34d"/>
<rect x="983" y="296" width="13" height="13" fill="#21918c"/>
<rect x="996" y="296" width="13" height="13" fill="#2d708e"/>
<rect x="1009" y="296" width="13" height="13" fill="#35b779"/>
<rect x="1022" y="296" width="14" height="13" fill="#44bf70"/>
<rect x="1036" y="296" width="13" height="13" fill="#60ca60"/>
<rect x="1049" y="296" width="13" height="13" fill="#2ab07f"/>
<rect x="1062" y="296" width="13" height="13" fill="#1f988b"/>
<rect x="1075" y="296" width="13" height="13" fill="#27808e"/>
<rect x="1088" y="296" width="14" height="13" fill="#1f9e89"/>
<rect x="1102" y="296" width="13" height="13" fill="#3a538b"/>
<rect x="1115" y="296" width="13" height="13" fill="#1f9e89"/>
<rect x="1128" y="296" width="13" height="13" fill="#60ca60"/>
<rect x="1141" y="296" width="13" height="13" fill="#25ab82"/>
<rect x="1154" y="296" width="14" height="13" fill="#25ab82"/>
<rect x="1168" y="296" width="13" height="13" fill="#20928c"/>
<rect x="851" y="309" width="13" height="13" fill="#20928c"/>
<rect x="864" y="309" width="13" height="13" fill="#90d743"/>
<rect x="877" y="309" width="14" height="13" fill="#60ca60"/>
<rect x="891" y="309" width="13" height="13" fill="#1f988b"/>
<rect x="904" y="309" width="13" height="13" fill="#1f958b"/>
<rect x="917" y="309" width="13" height="13" fill="#2e6e8e"/>
<rect x="930" y="309" width="13" height="13" fill="#21a585"/>
<rect x="943" y="309" width="14" height="13" fill="#3fbc73"/>
<rect x="957" y="309" width="13" height="13" fill="#1fa287"/>
<rect x="970" y="309" width="13" height="13" fill="#1fa287"/>
<rect x="983" y="309" width="13" height="13" fill="#1f988b"/>
<rect x="996" y="309" width="13" height="13" fill="#35b779"/>
<rect x="1009" y="309" width="13" height="13" fill="#31688e"/>
<rect x="1022" y="309" width="14" height="13" fill="#60ca60"/>
<rect x="1036" y="309" width="13" height="13" fill="#2ab07f"/>
<rect x="1049" y="309" width="13" height="13" fill="#1fa287"/>
<rect x="1062" y="309" width="13" height="13" fill="#1fa287"/>
<rect x="1075" y="309" width="13" height="13" fill="#3fbc73"/>
<rect x="1088" y="309" width="14" height="13" fill="#1fa287"/>
<rect x="1102" y="309" width="13" height="13" fill="#1fa287"/>
<rect x="1115" y="309" width="13" height="13" fill="#1f958b"/>
<rect x="1128" y="309" width="13" height="13" fill="#3e4989"/>
<rect x="1141" y="309" width="13" height="13" fill="#1f958b"/>
<rect x="1154" y="309" width="14" height="13" fill="#b5de2b"/>
<rect x="1168" y="309" width="13" height="13" fill="#20928c"/>
<rect x="851" y="322" width="13" height="14" fill="#277e8e"/>
<rect x="864" y="322" width="13" height="14" fill="#1f9e89"/>
<rect x="877" y="322" width="14" height="14" fill="#23888e"/>
<rect x="891" y="322" width="13" height="14" fill="#3fbc73"/>
<rect x="904" y="322" width="13" height="14" fill="#cde11d"/>
<rect x="917" y="322" width="13" height="14" fill="#21918c"/>
<rect x="930" y="322" width="13" height="14" fill="#25ab82"/>
<rect x="943" y="322" width="14" height="14" fill="#6ece58"/>
<rect x="957" y="322" width="13" height="14" fill="#297b8e"/>
<rect x="970" y="322" width="13" height="14" fill="#1f958b"/>
<rect x="983" y="322" width="13" height="14" fill="#1f958b"/>
<rect x="996" y="322" width="13" height="14" fill="#21918c"/>
<rect x="1009" y="322" width="13" height="14" fill="#21918c"/>
<rect x="1022" y="322" width="14" height="14" fill="#1fa287"/>
<rect x="1036" y="322" width="13" height="14" fill="#1f9e89"/>
<rect x="1049" y="322" width="13" height="14" fill="#21a585"/>
<rect x="1062" y="322" width="13" height="14" fill="#6ece58"/>
<rect x="1075" y="322" width="13" height="14" fill="#1f9e89"/>
<rect x="1088" y="322" width="14" height="14" fill="#44bf70"/>
<rect x="1102" y="322" width="13" height="14" fill="#35b779"/>
<rect x="1115" y="322" width="13" height="14" fill="#1e9b8a"/>
<rect x="1128" y="322" width="13" height="14" fill="#297b8e"/>
<rect x="1141" y="322" width="13" height="14" fill="#a0da39"/>
<rect x="1154" y="322" width="14" height="14" fill="#60ca60"/>
<rect x="1168" y="322" width="13" height="14" fill="#1f958b"/>
<rect x="851" y="336" width="13" height="13" fill="#20928c"/>
<rect x="864" y="336" width="13" height="13" fill="#1fa287"/>
<rect x="877" y="336" width="14" height="13" fill="#1e9b8a"/>
<rect x="891" y="336" width="13" height="13" fill="#1f958b"/>
<rect x="904" y="336" width="13" height="13" fill="#25ab82"/>
<rect x="917" y="336" width="13" height="13" fill="#4ec36b"/>
<rect x="930" y="336" width="13" height="13" fill="#1e9b8a"/>
<rect x="943" y="336" width="14" height="13" fill="#35b779"/>
<rect x="957" y="336" width="13" height="13" fill="#1f9e89"/>
<rect x="970" y="336" width="13" height="13" fill="#44bf70"/>
<rect x="983" y="336" width="13" height="13" fill="#21a585"/>
<rect x="996" y="336" width="13" height="13" fill="#1f9e89"/>
<rect x="1009" y="336" width="13" height="13" fill="#a0da39"/>
<rect x="1022" y="336" width="14" height="13" fill="#1f958b"/>
<rect x="1036" y="336" width="13" height="13" fill="#44bf70"/>
<rect x="1049" y="336" width="13" height="13" fill="#27808e"/>
<rect x="1062" y="336" width="13" height="13" fill="#6ece58"/>
<rect x="1075" y="336" width="13" height="13" fill="#25ab82"/>
<rect x="1088" y="336" width="14" height="13" fill="#90d743"/>
<rect x="1102" y="336" width="13" height="13" fill="#3fbc73"/>
<rect x="1115" y="336" width="13" height="13" fill="#2db27d"/>
<rect x="1128" y="336" width="13" height="13" fill="#1f9e89"/>
<rect x="1141" y="336" width="13" height="13" fill="#1f9e89"/>
<rect x="1154" y="336" width="14" height="13" fill="#1f988b"/>
<rect x="1168" y="336" width="13" height="13" fill="#1f9e89"/>
<rect x="851" y="349" width="13" height="14" fill="#60ca60"/>
<rect x="864" y="349" width="13" height="14" fill="#297b8e"/>
<rect x="877" y="349" width="14" height="14" fill="#228b8d"/>
<rect x="891" y="349" width="13" height="14" fill="#1f988b"/>
<rect x="904" y="349" width="13" height="14" fill="#4ec36b"/>
<rect x="917" y="349" width="13" height="14" fill="#1f958b"/>
<rect x="930" y="349" width="13" height="14" fill="#4ec36b"/>
<rect x="943" y="349" width="14" height="14" fill="#1f988b"/>
<rect x="957" y="349" width="13" height="14" fill="#2a788e"/>
<rect x="970" y="349" width="13" height="14" fill="#23888e"/>
<rect x="983" y="349" width="13" height="14" fill="#21a585"/>
<rect x="996" y="349" width="13" height="14" fill="#60ca60"/>
<rect x="1009" y="349" width="13" height="14" fill="#25ab82"/>
<rect x="1022" y="349" width="14" height="14" fill="#4ec36b"/>
<rect x="1036" y="349" width="13" height="14" fill="#5ac864"/>
<rect x="1049" y="349" width="13" height="14" fill="#21a585"/>
<rect x="1062" y="349" width="13" height="14" fill="#1f9e89"/>
<rect x="1075" y="349" width="13" height="14" fill="#297b8e"/>
<rect x="1088" y="349" width="14" height="14" fill="#1f9e89"/>
<rect x="1102" y="349" width="13" height="14" fill="#26828e"/>
<rect x="1115" y="349" width="13" height="14" fill="#25ab82"/>
<rect x="1128" y="349" width="13" height="14" fill="#3fbc73"/>
<rect x="1141" y="349" width="13" height="14" fill="#277e8e"/>
<rect x="1154" y="349" width="14" height="14" fill="#20928c"/>
<rect x="1168" y="349" width="13" height="14" fill="#414487"/>
<rect x="1250" y="32" width="13" height="12" fill="#a0da39"/>
<rect x="1263" y="32" width="13" height="12" fill="#1f9e89"/>
<rect x="1276" y="32" width="14" height="12" fill="#1f988b"/>
<rect x="1290" y="32" width="13" height="12" fill="#3fbc73"/>
<rect x="1303" y="32" width="13" height="12" fill="#44bf70"/>
<rect x="1316" y="32" width="13" height="12" fill="#1f988b"/>
<rect x="1329" y="32" width="14" height="12" fill="#21a585"/>
<rect x="1343" y="32" width="13" height="12" fill="#1f9e89"/>
<rect x="1356" y="32" width="13" height="12" fill="#27ad81"/>
<rect x="1369" y="32" width="13" height="12" fill="#44bf70"/>
<rect x="1382" y="32" width="13" height="12" fill="#31688e"/>
<rect x="1395" y="32" width="14" height="12" fill="#3fbc73"/>
<rect x="1409" y="32" width="13" height="12" fill="#228b8d"/>
<rect x="1422" y="32" width="13" height="12" fill="#25ab82"/>
<rect x="1435" y="32" width="13" height="12" fill="#fde725"/>
<rect x="1448" y="32" width="14" height="12" fill="#b5de2b"/>
<rect x="1462" y="32" width="13" height="12" fill="#25ab82"/>
<rect x="1475" y="32" width="13" height="12" fill="#98d83e"/>
<rect x="1488" y="32" width="13" height="12" fill="#5ac864"/>
<rect x="1501" y="32" width="13" height="12" fill="#81d34d"/>
<rect x="1514" y="32" width="14" height="12" fill="#27ad81"/>
<rect x="1528" y="32" width="13" height="12" fill="#21918c"/>
<rect x="1541" y="32" width="13" height="12" fill="#440154"/>
<rect x="1554" y="32" width="13" height="12" fill="#3fbc73"/>
<rect x="1567" y="32" width="14" height="12" fill="#1fa287"/>
<rect x="1250" y="44" width="13" height="13" fill="#3fbc73"/>
<rect x="1263" y="44" width="13" height="13" fill="#228b8d"/>
<rect x="1276" y="44" width="14" height="13" fill="#31688e"/>
<rect x="1290" y="44" width="13" height="13" fill="#20928c"/>
<rect x="1303" y="44" width="13" height="13" fill="#60ca60"/>
<rect x="1316" y="44" width="13" height="13" fill="#1f958b"/>
<rect x="1329" y="44" width="14" height="13" fill="#35b779"/>
<rect x="1343" y="44" width="13" height="13" fill="#1f9e89"/>
<rect x="1356" y="44" width="13" height="13" fill="#2ab07f"/>
<rect x="1369" y="44" width="13" height="13" fill="#67cc5c"/>
<rect x="1382" y="44" width="13" height="13" fill="#3a538b"/>
<rect x="1395" y="44" width="14" height="13" fill="#228b8d"/>
<rect x="1409" y="44" width="13" height="13" fill="#228b8d"/>
<rect x="1422" y="44" width="13" height="13" fill="#3fbc73"/>
<rect x="1435" y="44" width="13" height="13" fill="#3fbc73"/>
<rect x="1448" y="44" width="14" height="13" fill="#67cc5c"/>
<rect x="1462" y="44" width="13" height="13" fill="#22a884"/>
<rect x="1475" y="44" width="13" height="13" fill="#4ec36b"/>
<rect x="1488" y="44" width="13" height="13" fill="#1fa287"/>
<rect x="1501" y="44" width="13" height="13" fill="#4ec36b"/>
<rect x="1514" y="44" width="14" height="13" fill="#3fbc73"/>
<rect x="1528" y="44" width="13" height="13" fill="#1fa188"/>
<rect x="1541" y="44" width="13" height="13" fill="#2ab07f"/>
<rect x="1554" y="44" width="13" height="13" fill="#5ac864"/>
<rect x="1567" y="44" width="14" height="13" fill="#22a884"/>
<rect x="1250" y="57" width="13" height="14" fill="#277e8e"/>
<rect x="1263" y="57" width="13" height="14" fill="#60ca60"/>
<rect x="1276" y="57" width="14" height="14" fill="#2db27d"/>
<rect x="1290" y="57" width="13" height="14" fill="#35b779"/>
<rect x="1303" y="57" width="13" height="14" fill="#1e9b8a"/>
<rect x="1316" y="57" width="13" height="14" fill="#1f958b"/>
<rect x="1329" y="57" width="14" height="14" fill="#1fa188"/>
<rect x="1343" y="57" width="13" height="14" fill="#2e6e8e"/>
<rect x="1356" y="57" width="13" height="14" fill="#1f988b"/>
<rect x="1369" y="57" width="13" height="14" fill="#44bf70"/>
<rect x="1382" y="57" width="13" height="14" fill="#25ab82"/>
<rect x="1395" y="57" width="14" height="14" fill="#98d83e"/>
<rect x="1409" y="57" width="13" height="14" fill="#1f9e89"/>
<rect x="1422" y="57" width="13" height="14" fill="#3aba76"/>
<rect x="1435" y="57" width="13" height="14" fill="#3aba76"/>
<rect x="1448" y="57" width="14" height="14" fill="#3c508b"/>
<rect x="1462" y="57" width="13" height="14" fill="#2d708e"/>
<rect x="1475" y="57" width="13" height="14" fill="#b5de2b"/>
<rect x="1488" y="57" width="13" height="14" fill="#c5e021"/>
<rect x="1501" y="57" width="13" height="14" fill="#a0da39"/>
<rect x="1514" y="57" width="14" height="14" fill="#3fbc73"/>
<rect x="1528" y="57" width="13" height="14" fill="#1f9e89"/>
<rect x="1541" y="57" width="13" height="14" fill="#25858e"/>
<rect x="1554" y="57" width="13" height="14" fill="#6ece58"/>
<rect x="1567" y="57" width="14" height="14" fill="#6ece58"/>
<rect x="1250" y="71" width="13" height="13" fill="#21a585"/>
<rect x="1263" y="71" width="13" height="13" fill="#228b8d"/>
<rect x="1276" y="71" width="14" height="13" fill="#25ab82"/>
<rect x="1290" y="71" width="13" height="13" fill="#1fa188"/>
<rect x="1303" y="71" width="13" height="13" fill="#73d056"/>
<rect x="1316" y="71" width="13" height="13" fill="#60ca60"/>
<rect x="1329" y="71" width="14" height="13" fill="#c5e021"/>
<rect x="1343" y="71" width="13" height="13" fill="#cde11d"/>
<rect x="1356" y="71" width="13" height="13" fill="#2d708e"/>
<rect x="1369" y="71" width="13" height="13" fill="#228b8d"/>
<rect x="1382" y="71" width="13" height="13" fill="#cde11d"/>
<rect x="1395" y="71" width="14" height="13" fill="#277e8e"/>
<rect x="1409" y="71" width="13" height="13" fill="#27ad81"/>
<rect x="1422" y="71" width="13" height="13" fill="#3fbc73"/>
<rect x="1435" y="71" width="13" height="13" fill="#44bf70"/>
<rect x="1448" y="71" width="14" height="13" fill="#25858e"/>
<rect x="1462" y="71" width="13" height="13" fill="#472f7d"/>
<rect x="1475" y="71" width="13" height="13" fill="#e2e418"/>
<rect x="1488" y="71" width="13" height="13" fill="#3a538b"/>
<rect x="1501" y="71" width="13" height="13" fill="#b5de2b"/>
<rect x="1514" y="71" width="14" height="13" fill="#35b779"/>
<rect x="1528" y="71" width="13" height="13" fill="#3fbc73"/>
<rect x="1541" y="71" width="13" height="13" fill="#433d84"/>
<rect x="1554" y="71" width="13" height="13" fill="#3fbc73"/>
<rect x="1567" y="71" width="14" height="13" fill="#3fbc73"/>
<rect x="1250" y="84" width="13" height="13" fill="#277e8e"/>
<rect x="1263" y="84" width="13" height="13" fill="#3f4788"/>
<rect x="1276" y="84" width="14" height="13" fill="#90d743"/>
<rect x="1290" y="84" width="13" height="13" fill="#21a585"/>
<rect x="1303" y="84" width="13" height="13" fill="#a5db36"/>
<rect x="1316" y="84" width="13" height="13" fill="#3aba76"/>
<rect x="1329" y="84" width="14" height="13" fill="#60ca60"/>
<rect x="1343" y="84" width="13" height="13" fill="#60ca60"/>
<rect x="1356" y="84" width="13" height="13" fill="#1fa287"/>
<rect x="1369" y="84" width="13" height="13" fill="#1f958b"/>
<rect x="1382" y="84" width="13" height="13" fill="#90d743"/>
<rect x="1395" y="84" width="14" height="13" fill="#44bf70"/>
<rect x="1409" y="84" width="13" height="13" fill="#81d34d"/>
<rect x="1422" y="84" width="13" height="13" fill="#27ad81"/>
<rect x="1435" y="84" width="13" height="13" fill="#21918c"/>
<rect x="1448" y="84" width="14" height="13" fill="#60ca60"/>
<rect x="1462" y="84" width="13" height="13" fill="#60ca60"/>
<rect x="1475" y="84" width="13" height="13" fill="#2d708e"/>
<rect x="1488" y="84" width="13" height="13" fill="#23888e"/>
<rect x="1501" y="84" width="13" height="13" fill="#2d708e"/>
<rect x="1514" y="84" width="14" height="13" fill="#31688e"/>
<rect x="1528" y="84" width="13" height="13" fill="#31688e"/>
<rect x="1541" y="84" width="13" height="13" fill="#90d743"/>
<rect x="1554" y="84" width="13" height="13" fill="#25858e"/>
<rect x="1567" y="84" width="14" height="13" fill="#1f9e89"/>
<rect x="1250" y="97" width="13" height="13" fill="#1fa188"/>
<rect x="1263" y="97" width="13" height="13" fill="#5ac864"/>
<rect x="1276" y="97" width="14" height="13" fill="#60ca60"/>
<rect x="1290" y="97" width="13" height="13" fill="#440154"/>
<rect x="1303" y="97" width="13" height="13" fill="#1fa287"/>
<rect x="1316" y="97" width="13" height="13" fill="#44bf70"/>
<rect x="1329" y="97" width="14" height="13" fill="#440154"/>
<rect x="1343" y="97" width="13" height="13" fill="#20928c"/>
<rect x="1356" y="97" width="13" height="13" fill="#228b8d"/>
<rect x="1369" y="97" width="13" height="13" fill="#3fbc73"/>
<rect x="1382" y="97" width="13" height="13" fill="#35b779"/>
<rect x="1395" y="97" width="14" height="13" fill="#22a884"/>
<rect x="1409" y="97" width="13" height="13" fill="#21918c"/>
<rect x="1422" y="97" width="13" height="13" fill="#a5db36"/>
<rect x="1435" y="97" width="13" height="13" fill="#89d548"/>
<rect x="1448" y="97" width="14" height="13" fill="#31b57b"/>
<rect x="1462" y="97" width="13" height="13" fill="#2db27d"/>
<rect x="1475" y="97" width="13" height="13" fill="#228b8d"/>
<rect x="1488" y="97" width="13" height="13" fill="#20928c"/>
<rect x="1501" y="97" width="13" height="13" fill="#21918c"/>
<rect x="1514" y="97" width="14" height="13" fill="#2c728e"/>
<rect x="1528" y="97" width="13" height="13" fill="#25858e"/>
<rect x="1541" y="97" width="13" height="13" fill="#2e6e8e"/>
<rect x="1554" y="97" width="13" height="13" fill="#21918c"/>
<rect x="1567" y="97" width="14" height="13" fill="#1fa188"/>
<rect x="1250" y="110" width="13" height="14" fill="#60ca60"/>
<rect x="1263" y="110" width="13" height="14" fill="#60ca60"/>
<rect x="1276" y="110" width="14" height="14" fill="#22a884"/>
<rect x="1290" y="110" width="13" height="14" fill="#3aba76"/>
<rect x="1303" y="110" width="13" height="14" fill="#25ab82"/>
<rect x="1316" y="110" width="13" height="14" fill="#2ab07f"/>
<rect x="1329" y="110" width="14" height="14" fill="#2d708e"/>
<rect x="1343" y="110" width="13" height="14" fill="#1e9b8a"/>
<rect x="1356" y="110" width="13" height="14" fill="#31b57b"/>
<rect x="1369" y="110" width="13" height="14" fill="#21a585"/>
<rect x="1382" y="110" width="13" height="14" fill="#1fa287"/>
<rect x="1395" y="110" width="14" height="14" fill="#81d34d"/>
<rect x="1409" y="110" width="13" height="14" fill="#22a884"/>
<rect x="1422" y="110" width="13" height="14" fill="#4ac16d"/>
<rect x="1435" y="110" width="13" height="14" fill="#4ac16d"/>
<rect x="1448" y="110" width="14" height="14" fill="#54c568"/>
<rect x="1462" y="110" width="13" height="14" fill="#a0da39"/>
<rect x="1475" y="110" width="13" height="14" fill="#27ad81"/>
<rect x="1488" y="110" width="13" height="14" fill="#21a585"/>
<rect x="1501" y="110" width="13" height="14" fill="#20928c"/>
<rect x="1514" y="110" width="14" height="14" fill="#22a884"/>
<rect x="1528" y="110" width="13" height="14" fill="#25ab82"/>
<rect x="1541" y="110" width="13" height="14" fill="#25ab82"/>
<rect x="1554" y="110" width="13" height="14" fill="#25858e"/>
<rect x="1567" y="110" width="14" height="14" fill="#46327e"/>
<rect x="1250" y="124" width="13" height="13" fill="#1fa287"/>
<rect x="1263" y="124" width="13" height="13" fill="#277e8e"/>
<rect x="1276" y="124" width="14" height="13" fill="#90d743"/>
<rect x="1290" y="124" width="13" height="13" fill="#3aba76"/>
<rect x="1303" y="124" width="13" height="13" fill="#35b779"/>
<rect x="1316" y="124" width="13" height="13" fill="#1f9e89"/>
<rect x="1329" y="124" width="14" height="13" fill="#482071"/>
<rect x="1343" y="124" width="13" height="13" fill="#26828e"/>
<rect x="1356" y="124" width="13" height="13" fill="#2db27d"/>
<rect x="1369" y="124" width="13" height="13" fill="#4ac16d"/>
<rect x="1382" y="124" width="13" height="13" fill="#1fa188"/>
<rect x="1395" y="124" width="14" height="13" fill="#20928c"/>
<rect x="1409" y="124" width="13" height="13" fill="#20928c"/>
<rect x="1422" y="124" width="13" height="13" fill="#1f988b"/>
<rect x="1435" y="124" width="13" height="13" fill="#54c568"/>
<rect x="1448" y="124" width="14" height="13" fill="#54c568"/>
<rect x="1462" y="124" width="13" height="13" fill="#44bf70"/>
<rect x="1475" y="124" width="13" height="13" fill="#1fa287"/>
<rect x="1488" y="124" width="13" height="13" fill="#b5de2b"/>
<rect x="1501" y="124" width="13" height="13" fill="#fde725"/>
<rect x="1514" y="124" width="14" height="13" fill="#f1e51d"/>
<rect x="1528" y="124" width="13" height="13" fill="#25ab82"/>
<rect x="1541" y="124" width="13" height="13" fill="#27ad81"/>
<rect x="1554" y="124" width="13" height="13" fill="#54c568"/>
<rect x="1567" y="124" width="14" height="13" fill="#cde11d"/>
<rect x="1250" y="137" width="13" height="13" fill="#450457"/>
<rect x="1263" y="137" width="13" height="13" fill="#450457"/>
<rect x="1276" y="137" width="14" height="13" fill="#228b8d"/>
<rect x="1290" y="137" width="13" height="13" fill="#a5db36"/>
<rect x="1303" y="137" width="13" height="13" fill="#3fbc73"/>
<rect x="1316" y="137" width="13" height="13" fill="#21918c"/>
<rect x="1329" y="137" width="14" height="13" fill="#5ac864"/>
<rect x="1343" y="137" width="13" height="13" fill="#1fa188"/>
<rect x="1356" y="137" width="13" height="13" fill="#44bf70"/>
<rect x="1369" y="137" width="13" height="13" fill="#5ac864"/>
<rect x="1382" y="137" width="13" height="13" fill="#27ad81"/>
<rect x="1395" y="137" width="14" height="13" fill="#1f9e89"/>
<rect x="1409" y="137" width="13" height="13" fill="#21918c"/>
<rect x="1422" y="137" width="13" height="13" fill="#2db27d"/>
<rect x="1435" y="137" width="13" height="13" fill="#54c568"/>
<rect x="1448" y="137" width="14" height="13" fill="#a5db36"/>
<rect x="1462" y="137" width="13" height="13" fill="#dae319"/>
<rect x="1475" y="137" width="13" height="13" fill="#1fa188"/>
<rect x="1488" y="137" width="13" height="13" fill="#1fa188"/>
<rect x="1501" y="137" width="13" height="13" fill="#eae51a"/>
<rect x="1514" y="137" width="14" height="13" fill="#e2e418"/>
<rect x="1528" y="137" width="13" height="13" fill="#27ad81"/>
<rect x="1541" y="137" width="13" height="13" fill="#6ece58"/>
<rect x="1554" y="137" width="13" height="13" fill="#81d34d"/>
<rect x="1567" y="137" width="14" height="13" fill="#27808e"/>
<rect x="1250" y="150" width="13" height="13" fill="#1f988b"/>
<rect x="1263" y="150" width="13" height="13" fill="#25858e"/>
<rect x="1276" y="150" width="14" height="13" fill="#1f988b"/>
<rect x="1290" y="150" width="13" height="13" fill="#81d34d"/>
<rect x="1303" y="150" width="13" height="13" fill="#25ab82"/>
<rect x="1316" y="150" width="13" height="13" fill="#21a585"/>
<rect x="1329" y="150" width="14" height="13" fill="#27ad81"/>
<rect x="1343" y="150" width="13" height="13" fill="#5ac864"/>
<rect x="1356" y="150" width="13" height="13" fill="#228b8d"/>
<rect x="1369" y="150" width="13" height="13" fill="#1fa287"/>
<rect x="1382" y="150" width="13" height="13" fill="#81d34d"/>
<rect x="1395" y="150" width="14" height="13" fill="#6ece58"/>
<rect x="1409" y="150" width="13" height="13" fill="#22a884"/>
<rect x="1422" y="150" width="13" height="13" fill="#44bf70"/>
<rect x="1435" y="150" width="13" height="13" fill="#c5e021"/>
<rect x="1448" y="150" width="14" height="13" fill="#6ece58"/>
<rect x="1462" y="150" width="13" height="13" fill="#fde725"/>
<rect x="1475" y="150" width="13" height="13" fill="#e2e418"/>
<rect x="1488" y="150" width="13" height="13" fill="#e2e418"/>
<rect x="1501" y="150" width="13" height="13" fill="#a0da39"/>
<rect x="1514" y="150" width="14" height="13" fill="#b5de2b"/>
<rect x="1528" y="150" width="13" height="13" fill="#90d743"/>
<rect x="1541" y="150" width="13" height="13" fill="#2ab07f"/>
<rect x="1554" y="150" width="13" height="13" fill="#20928c"/>
<rect x="1567" y="150" width="14" height="13" fill="#22a884"/>
<rect x="1250" y="163" width="13" height="14" fill="#228b8d"/>
<rect x="1263" y="163" width="13" height="14" fill="#20928c"/>
<rect x="1276" y="163" width="14" height="14" fill="#2d708e"/>
<rect x="1290" y="163" width="13" height="14" fill="#1f988b"/>
<rect x="1303" y="163" width="13" height="14" fill="#1f988b"/>
<rect x="1316" y="163" width="13" height="14" fill="#1f988b"/>
<rect x="1329" y="163" width="14" height="14" fill="#277e8e"/>
<rect x="1343" y="163" width="13" height="14" fill="#3fbc73"/>
<rect x="1356" y="163" width="13" height="14" fill="#25ab82"/>
<rect x="1369" y="163" width="13" height="14" fill="#89d548"/>
<rect x="1382" y="163" width="13" height="14" fill="#90d743"/>
<rect x="1395" y="163" width="14" height="14" fill="#98d83e"/>
<rect x="1409" y="163" width="13" height="14" fill="#a0da39"/>
<rect x="1422" y="163" width="13" height="14" fill="#81d34d"/>
<rect x="1435" y="163" width="13" height="14" fill="#c5e021"/>
<rect x="1448" y="163" width="14" height="14" fill="#b5de2b"/>
<rect x="1462" y="163" width="13" height="14" fill="#fde725"/>
<rect x="1475" y="163" width="13" height="14" fill="#fde725"/>
<rect x="1488" y="163" width="13" height="14" fill="#cde11d"/>
<rect x="1501" y="163" width="13" height="14" fill="#21a585"/>
<rect x="1514" y="163" width="14" height="14" fill="#44bf70"/>
<rect x="1528" y="163" width="13" height="14" fill="#44bf70"/>
<rect x="1541" y="163" width="13" height="14" fill="#27ad81"/>
<rect x="1554" y="163" width="13" height="14" fill="#4ec36b"/>
<rect x="1567" y="163" width="14" height="14" fill="#1f9e89"/>
<rect x="1250" y="177" width="13" height="13" fill="#440154"/>
<rect x="1263" y="177" width="13" height="13" fill="#3a538b"/>
<rect x="1276" y="177" width="14" height="13" fill="#44bf70"/>
<rect x="1290" y="177" width="13" height="13" fill="#31688e"/>
<rect x="1303" y="177" width="13" height="13" fill="#1f9e89"/>
<rect x="1316" y="177" width="13" height="13" fill="#35b779"/>
<rect x="1329" y="177" width="14" height="13" fill="#1f9e89"/>
<rect x="1343" y="177" width="13" height="13" fill="#25ab82"/>
<rect x="1356" y="177" width="13" height="13" fill="#81d34d"/>
<rect x="1369" y="177" width="13" height="13" fill="#f8e621"/>
<rect x="1382" y="177" width="13" height="13" fill="#a0da39"/>
<rect x="1395" y="177" width="14" height="13" fill="#fde725"/>
<rect x="1409" y="177" width="13" height="13" fill="#dae319"/>
<rect x="1422" y="177" width="13" height="13" fill="#fde725"/>
<rect x="1435" y="177" width="13" height="13" fill="#cde11d"/>
<rect x="1448" y="177" width="14" height="13" fill="#c5e021"/>
<rect x="1462" y="177" width="13" height="13" fill="#f8e621"/>
<rect x="1475" y="177" width="13" height="13" fill="#dae319"/>
<rect x="1488" y="177" width="13" height="13" fill="#f1e51d"/>
<rect x="1501" y="177" width="13" height="13" fill="#89d548"/>
<rect x="1514" y="177" width="14" height="13" fill="#c5e021"/>
<rect x="1528" y="177" width="13" height="13" fill="#a0da39"/>
<rect x="1541" y="177" width="13" height="13" fill="#89d548"/>
<rect x="1554" y="177" width="13" height="13" fill="#2d708e"/>
<rect x="1567" y="177" width="14" height="13" fill="#1f988b"/>
<rect x="1250" y="190" width="13" height="13" fill="#60ca60"/>
<rect x="1263" y="190" width="13" height="13" fill="#20928c"/>
<rect x="1276" y="190" width="14" height="13" fill="#21a585"/>
<rect x="1290" y="190" width="13" height="13" fill="#20928c"/>
<rect x="1303" y="190" width="13" height="13" fill="#44bf70"/>
<rect x="1316" y="190" width="13" height="13" fill="#1fa188"/>
<rect x="1329" y="190" width="14" height="13" fill="#60ca60"/>
<rect x="1343" y="190" width="13" height="13" fill="#1f988b"/>
<rect x="1356" y="190" width="13" height="13" fill="#67cc5c"/>
<rect x="1369" y="190" width="13" height="13" fill="#27ad81"/>
<rect x="1382" y="190" width="13" height="13" fill="#e2e418"/>
<rect x="1395" y="190" width="14" height="13" fill="#fde725"/>
<rect x="1409" y="190" width="13" height="13" fill="#fde725"/>
<rect x="1422" y="190" width="13" height="13" fill="#fde725"/>
<rect x="1435" y="190" width="13" height="13" fill="#eae51a"/>
<rect x="1448" y="190" width="14" height="13" fill="#dae319"/>
<rect x="1462" y="190" width="13" height="13" fill="#eae51a"/>
<rect x="1475" y="190" width="13" height="13" fill="#fde725"/>
<rect x="1488" y="190" width="13" height="13" fill="#d2e21b"/>
<rect x="1501" y="190" width="13" height="13" fill="#7ad151"/>
<rect x="1514" y="190" width="14" height="13" fill="#4ac16d"/>
<rect x="1528" y="190" width="13" height="13" fill="#3aba76"/>
<rect x="1541" y="190" width="13" height="13" fill="#277e8e"/>
<rect x="1554" y="190" width="13" height="13" fill="#1fa287"/>
<rect x="1567" y="190" width="14" height="13" fill="#a5db36"/>
<rect x="1250" y="203" width="13" height="13" fill="#54c568"/>
<rect x="1263" y="203" width="13" height="13" fill="#23888e"/>
<rect x="1276" y="203" width="14" height="13" fill="#20928c"/>
<rect x="1290" y="203" width="13" height="13" fill="#4ac16d"/>
<rect x="1303" y="203" width="13" height="13" fill="#6ece58"/>
<rect x="1316" y="203" width="13" height="13" fill="#1fa188"/>
<rect x="1329" y="203" width="14" height="13" fill="#dae319"/>
<rect x="1343" y="203" width="13" height="13" fill="#3fbc73"/>
<rect x="1356" y="203" width="13" height="13" fill="#cde11d"/>
<rect x="1369" y="203" width="13" height="13" fill="#67cc5c"/>
<rect x="1382" y="203" width="13" height="13" fill="#f1e51d"/>
<rect x="1395" y="203" width="14" height="13" fill="#fde725"/>
<rect x="1409" y="203" width="13" height="13" fill="#dae319"/>
<rect x="1422" y="203" width="13" height="13" fill="#fde725"/>
<rect x="1435" y="203" width="13" height="13" fill="#eae51a"/>
<rect x="1448" y="203" width="14" height="13" fill="#f8e621"/>
<rect x="1462" y="203" width="13" height="13" fill="#89d548"/>
<rect x="1475" y="203" width="13" height="13" fill="#a5db36"/>
<rect x="1488" y="203" width="13" height="13" fill="#60ca60"/>
<rect x="1501" y="203" width="13" height="13" fill="#3aba76"/>
<rect x="1514" y="203" width="14" height="13" fill="#4ac16d"/>
<rect x="1528" y="203" width="13" height="13" fill="#3fbc73"/>
<rect x="1541" y="203" width="13" height="13" fill="#1f988b"/>
<rect x="1554" y="203" width="13" height="13" fill="#a0da39"/>
<rect x="1567" y="203" width="14" height="13" fill="#5ac864"/>
<rect x="1250" y="216" width="13" height="14" fill="#25858e"/>
<rect x="1263" y="216" width="13" height="14" fill="#1f988b"/>
<rect x="1276" y="216" width="14" height="14" fill="#277e8e"/>
<rect x="1290" y="216" width="13" height="14" fill="#a5db36"/>
<rect x="1303" y="216" width="13" height="14" fill="#1fa188"/>
<rect x="1316" y="216" width="13" height="14" fill="#1fa188"/>
<rect x="1329" y="216" width="14" height="14" fill="#67cc5c"/>
<rect x="1343" y="216" width="13" height="14" fill="#a5db36"/>
<rect x="1356" y="216" width="13" height="14" fill="#67cc5c"/>
<rect x="1369" y="216" width="13" height="14" fill="#440154"/>
<rect x="1382" y="216" width="13" height="14" fill="#20928c"/>
<rect x="1395" y="216" width="14" height="14" fill="#60ca60"/>
<rect x="1409" y="216" width="13" height="14" fill="#b5de2b"/>
<rect x="1422" y="216" width="13" height="14" fill="#addc30"/>
<rect x="1435" y="216" width="13" height="14" fill="#6ece58"/>
<rect x="1448" y="216" width="14" height="14" fill="#f1e51d"/>
<rect x="1462" y="216" width="13" height="14" fill="#25ab82"/>
<rect x="1475" y="216" width="13" height="14" fill="#25ab82"/>
<rect x="1488" y="216" width="13" height="14" fill="#81d34d"/>
<rect x="1501" y="216" width="13" height="14" fill="#4ec36b"/>
<rect x="1514" y="216" width="14" height="14" fill="#3aba76"/>
<rect x="1528" y="216" width="13" height="14" fill="#3aba76"/>
<rect x="1541" y="216" width="13" height="14" fill="#23888e"/>
<rect x="1554" y="216" width="13" height="14" fill="#20928c"/>
<rect x="1567" y="216" width="14" height="14" fill="#60ca60"/>
<rect x="1250" y="230" width="13" height="13" fill="#27808e"/>
<rect x="1263" y="230" width="13" height="13" fill="#1fa188"/>
<rect x="1276" y="230" width="14" height="13" fill="#7ad151"/>
<rect x="1290" y="230" width="13" height="13" fill="#482071"/>
<rect x="1303" y="230" width="13" height="13" fill="#1fa188"/>
<rect x="1316" y="230" width="13" height="13" fill="#25858e"/>
<rect x="1329" y="230" width="14" height="13" fill="#89d548"/>
<rect x="1343" y="230" width="13" height="13" fill="#c5e021"/>
<rect x="1356" y="230" width="13" height="13" fill="#27ad81"/>
<rect x="1369" y="230" width="13" height="13" fill="#22a884"/>
<rect x="1382" y="230" width="13" height="13" fill="#f1e51d"/>
<rect x="1395" y="230" width="14" height="13" fill="#1fa188"/>
<rect x="1409" y="230" width="13" height="13" fill="#81d34d"/>
<rect x="1422" y="230" width="13" height="13" fill="#2ab07f"/>
<rect x="1435" y="230" width="13" height="13" fill="#3aba76"/>
<rect x="1448" y="230" width="14" height="13" fill="#98d83e"/>
<rect x="1462" y="230" width="13" height="13" fill="#67cc5c"/>
<rect x="1475" y="230" width="13" height="13" fill="#54c568"/>
<rect x="1488" y="230" width="13" height="13" fill="#90d743"/>
<rect x="1501" y="230" width="13" height="13" fill="#22a884"/>
<rect x="1514" y="230" width="14" height="13" fill="#20928c"/>
<rect x="1528" y="230" width="13" height="13" fill="#1f988b"/>
<rect x="1541" y="230" width="13" height="13" fill="#20928c"/>
<rect x="1554" y="230" width="13" height="13" fill="#3aba76"/>
<rect x="1567" y="230" width="14" height="13" fill="#4ec36b"/>
<rect x="1250" y="243" width="13" height="13" fill="#21918c"/>
<rect x="1263" y="243" width="13" height="13" fill="#90d743"/>
<rect x="1276" y="243" width="14" height="13" fill="#44bf70"/>
<rect x="1290" y="243" width="13" height="13" fill="#1f988b"/>
<rect x="1303" y="243" width="13" height="13" fill="#60ca60"/>
<rect x="1316" y="243" width="13" height="13" fill="#1fa188"/>
<rect x="1329" y="243" width="14" height="13" fill="#67cc5c"/>
<rect x="1343" y="243" width="13" height="13" fill="#3aba76"/>
<rect x="1356" y="243" width="13" height="13" fill="#22a884"/>
<rect x="1369" y="243" width="13" height="13" fill="#31b57b"/>
<rect x="1382" y="243" width="13" height="13" fill="#27ad81"/>
<rect x="1395" y="243" width="14" height="13" fill="#89d548"/>
<rect x="1409" y="243" width="13" height="13" fill="#73d056"/>
<rect x="1422" y="243" width="13" height="13" fill="#3c508b"/>
<rect x="1435" y="243" width="13" height="13" fill="#90d743"/>
<rect x="1448" y="243" width="14" height="13" fill="#2e6e8e"/>
<rect x="1462" y="243" width="13" height="13" fill="#67cc5c"/>
<rect x="1475" y="243" width="13" height="13" fill="#a5db36"/>
<rect x="1488" y="243" width="13" height="13" fill="#26828e"/>
<rect x="1501" y="243" width="13" height="13" fill="#3fbc73"/>
<rect x="1514" y="243" width="14" height="13" fill="#81d34d"/>
<rect x="1528" y="243" width="13" height="13" fill="#54c568"/>
<rect x="1541" y="243" width="13" height="13" fill="#22a884"/>
<rect x="1554" y="243" width="13" height="13" fill="#21918c"/>
<rect x="1567" y="243" width="14" height="13" fill="#27ad81"/>
<rect x="1250" y="256" width="13" height="13" fill="#a0da39"/>
<rect x="1263" y="256" width="13" height="13" fill="#31b57b"/>
<rect x="1276" y="256" width="14" height="13" fill="#3aba76"/>
<rect x="1290" y="256" width="13" height="13" fill="#6ece58"/>
<rect x="1303" y="256" width="13" height="13" fill="#27ad81"/>
<rect x="1316" y="256" width="13" height="13" fill="#27ad81"/>
<rect x="1329" y="256" width="14" height="13" fill="#89d548"/>
<rect x="1343" y="256" width="13" height="13" fill="#3fbc73"/>
<rect x="1356" y="256" width="13" height="13" fill="#c5e021"/>
<rect x="1369" y="256" width="13" height="13" fill="#4ac16d"/>
<rect x="1382" y="256" width="13" height="13" fill="#1fa188"/>
<rect x="1395" y="256" width="14" height="13" fill="#1fa188"/>
<rect x="1409" y="256" width="13" height="13" fill="#2ab07f"/>
<rect x="1422" y="256" width="13" height="13" fill="#25ab82"/>
<rect x="1435" y="256" width="13" height="13" fill="#1f988b"/>
<rect x="1448" y="256" width="14" height="13" fill="#1f958b"/>
<rect x="1462" y="256" width="13" height="13" fill="#4ec36b"/>
<rect x="1475" y="256" width="13" height="13" fill="#1fa188"/>
<rect x="1488" y="256" width="13" height="13" fill="#228b8d"/>
<rect x="1501" y="256" width="13" height="13" fill="#90d743"/>
<rect x="1514" y="256" width="14" height="13" fill="#4ac16d"/>
<rect x="1528" y="256" width="13" height="13" fill="#5ac864"/>
<rect x="1541" y="256" width="13" height="13" fill="#25ab82"/>
<rect x="1554" y="256" width="13" height="13" fill="#c5e021"/>
<rect x="1567" y="256" width="14" height="13" fill="#44bf70"/>
<rect x="1250" y="269" width="13" height="14" fill="#54c568"/>
<rect x="1263" y="269" width="13" height="14" fill="#98d83e"/>
<rect x="1276" y="269" width="14" height="14" fill="#1fa188"/>
<rect x="1290" y="269" width="13" height="14" fill="#67cc5c"/>
<rect x="1303" y="269" width="13" height="14" fill="#3aba76"/>
<rect x="1316" y="269" width="13" height="14" fill="#31688e"/>
<rect x="1329" y="269" width="14" height="14" fill="#1fa188"/>
<rect x="1343" y="269" width="13" height="14" fill="#3aba76"/>
<rect x="1356" y="269" width="13" height="14" fill="#277e8e"/>
<rect x="1369" y="269" width="13" height="14" fill="#b5de2b"/>
<rect x="1382" y="269" width="13" height="14" fill="#81d34d"/>
<rect x="1395" y="269" width="14" height="14" fill="#228b8d"/>
<rect x="1409" y="269" width="13" height="14" fill="#27ad81"/>
<rect x="1422" y="269" width="13" height="14" fill="#fde725"/>
<rect x="1435" y="269" width="13" height="14" fill="#60ca60"/>
<rect x="1448" y="269" width="14" height="14" fill="#4ac16d"/>
<rect x="1462" y="269" width="13" height="14" fill="#5ac864"/>
<rect x="1475" y="269" width="13" height="14" fill="#1fa287"/>
<rect x="1488" y="269" width="13" height="14" fill="#a5db36"/>
<rect x="1501" y="269" width="13" height="14" fill="#a5db36"/>
<rect x="1514" y="269" width="14" height="14" fill="#2ab07f"/>
<rect x="1528" y="269" width="13" height="14" fill="#3aba76"/>
<rect x="1541" y="269" width="13" height="14" fill="#1e9b8a"/>
<rect x="1554" y="269" width="13" height="14" fill="#a0da39"/>
<rect x="1567" y="269" width="14" height="14" fill="#1fa287"/>
<rect x="1250" y="283" width="13" height="13" fill="#3fbc73"/>
<rect x="1263" y="283" width="13" height="13" fill="#1fa287"/>
<rect x="1276" y="283" width="14" height="13" fill="#228b8d"/>
<rect x="1290" y="283" width="13" height="13" fill="#67cc5c"/>
<rect x="1303" y="283" width="13" height="13" fill="#3e4989"/>
<rect x="1316" y="283" width="13" height="13" fill="#443983"/>
<rect x="1329" y="283" width="14" height="13" fill="#277e8e"/>
<rect x="1343" y="283" width="13" height="13" fill="#1f988b"/>
<rect x="1356" y="283" width="13" height="13" fill="#21918c"/>
<rect x="1369" y="283" width="13" height="13" fill="#7ad151"/>
<rect x="1382" y="283" width="13" height="13" fill="#20928c"/>
<rect x="1395" y="283" width="14" height="13" fill="#3aba76"/>
<rect x="1409" y="283" width="13" height="13" fill="#1f988b"/>
<rect x="1422" y="283" width="13" height="13" fill="#1e9b8a"/>
<rect x="1435" y="283" width="13" height="13" fill="#443983"/>
<rect x="1448" y="283" width="14" height="13" fill="#481668"/>
<rect x="1462" y="283" width="13" height="13" fill="#277e8e"/>
<rect x="1475" y="283" width="13" height="13" fill="#1fa188"/>
<rect x="1488" y="283" width="13" height="13" fill="#1e9b8a"/>
<rect x="1501" y="283" width="13" height="13" fill="#27808e"/>
<rect x="1514" y="283" width="14" height="13" fill="#27ad81"/>
<rect x="1528" y="283" width="13" height="13" fill="#5ac864"/>
<rect x="1541" y="283" width="13" height="13" fill="#20928c"/>
<rect x="1554" y="283" width="13" height="13" fill="#22a884"/>
<rect x="1567" y="283" width="14" height="13" fill="#1fa287"/>
<rect x="1250" y="296" width="13" height="13" fill="#54c568"/>
<rect x="1263" y="296" width="13" height="13" fill="#218e8d"/>
<rect x="1276" y="296" width="14" height="13" fill="#90d743"/>
<rect x="1290" y="296" width="13" height="13" fill="#22a884"/>
<rect x="1303" y="296" width="13" height="13" fill="#6ece58"/>
<rect x="1316" y="296" width="13" height="13" fill="#1fa188"/>
<rect x="1329" y="296" width="14" height="13" fill="#3e4989"/>
<rect x="1343" y="296" width="13" height="13" fill="#22a884"/>
<rect x="1356" y="296" width="13" height="13" fill="#7ad151"/>
<rect x="1369" y="296" width="13" height="13" fill="#7ad151"/>
<rect x="1382" y="296" width="13" height="13" fill="#472f7d"/>
<rect x="1395" y="296" width="14" height="13" fill="#6ece58"/>
<rect x="1409" y="296" width="13" height="13" fill="#1fa188"/>
<rect x="1422" y="296" width="13" height="13" fill="#228b8d"/>
<rect x="1435" y="296" width="13" height="13" fill="#1f958b"/>
<rect x="1448" y="296" width="14" height="13" fill="#35b779"/>
<rect x="1462" y="296" width="13" height="13" fill="#23888e"/>
<rect x="1475" y="296" width="13" height="13" fill="#3fbc73"/>
<rect x="1488" y="296" width="13" height="13" fill="#81d34d"/>
<rect x="1501" y="296" width="13" height="13" fill="#27ad81"/>
<rect x="1514" y="296" width="14" height="13" fill="#27ad81"/>
<rect x="1528" y="296" width="13" height="13" fill="#60ca60"/>
<rect x="1541" y="296" width="13" height="13" fill="#60ca60"/>
<rect x="1554" y="296" width="13" height="13" fill="#7ad151"/>
<rect x="1567" y="296" width="14" height="13" fill="#2c728e"/>
<rect x="1250" y="309" width="13" height="13" fill="#23888e"/>
<rect x="1263" y="309" width="13" height="13" fill="#2db27d"/>
<rect x="1276" y="309" width="14" height="13" fill="#3aba76"/>
<rect x="1290" y="309" width="13" height="13" fill="#2b758e"/>
<rect x="1303" y="309" width="13" height="13" fill="#fde725"/>
<rect x="1316" y="309" width="13" height="13" fill="#44bf70"/>
<rect x="1329" y="309" width="14" height="13" fill="#21918c"/>
<rect x="1343" y="309" width="13" height="13" fill="#3fbc73"/>
<rect x="1356" y="309" width="13" height="13" fill="#35b779"/>
<rect x="1369" y="309" width="13" height="13" fill="#2ab07f"/>
<rect x="1382" y="309" width="13" height="13" fill="#3aba76"/>
<rect x="1395" y="309" width="14" height="13" fill="#25ab82"/>
<rect x="1409" y="309" width="13" height="13" fill="#1fa188"/>
<rect x="1422" y="309" width="13" height="13" fill="#6ece58"/>
<rect x="1435" y="309" width="13" height="13" fill="#25858e"/>
<rect x="1448" y="309" width="14" height="13" fill="#54c568"/>
<rect x="1462" y="309" width="13" height="13" fill="#54c568"/>
<rect x="1475" y="309" width="13" height="13" fill="#67cc5c"/>
<rect x="1488" y="309" width="13" height="13" fill="#25ab82"/>
<rect x="1501" y="309" width="13" height="13" fill="#1f988b"/>
<rect x="1514" y="309" width="14" height="13" fill="#26828e"/>
<rect x="1528" y="309" width="13" height="13" fill="#5ac864"/>
<rect x="1541" y="309" width="13" height="13" fill="#5ac864"/>
<rect x="1554" y="309" width="13" height="13" fill="#3fbc73"/>
<rect x="1567" y="309" width="14" height="13" fill="#1e9b8a"/>
<rect x="1250" y="322" width="13" height="14" fill="#44bf70"/>
<rect x="1263" y="322" width="13" height="14" fill="#1fa188"/>
<rect x="1276" y="322" width="14" height="14" fill="#25ab82"/>
<rect x="1290" y="322" width="13" height="14" fill="#297b8e"/>
<rect x="1303" y="322" width="13" height="14" fill="#73d056"/>
<rect x="1316" y="322" width="13" height="14" fill="#60ca60"/>
<rect x="1329" y="322" width="14" height="14" fill="#3fbc73"/>
<rect x="1343" y="322" width="13" height="14" fill="#1fa188"/>
<rect x="1356" y="322" width="13" height="14" fill="#20928c"/>
<rect x="1369" y="322" width="13" height="14" fill="#89d548"/>
<rect x="1382" y="322" width="13" height="14" fill="#1fa188"/>
<rect x="1395" y="322" width="14" height="14" fill="#20928c"/>
<rect x="1409" y="322" width="13" height="14" fill="#25858e"/>
<rect x="1422" y="322" width="13" height="14" fill="#a5db36"/>
<rect x="1435" y="322" width="13" height="14" fill="#21a585"/>
<rect x="1448" y="322" width="14" height="14" fill="#6ece58"/>
<rect x="1462" y="322" width="13" height="14" fill="#1f988b"/>
<rect x="1475" y="322" width="13" height="14" fill="#2db27d"/>
<rect x="1488" y="322" width="13" height="14" fill="#addc30"/>
<rect x="1501" y="322" width="13" height="14" fill="#31b57b"/>
<rect x="1514" y="322" width="14" height="14" fill="#2d708e"/>
<rect x="1528" y="322" width="13" height="14" fill="#1f9e89"/>
<rect x="1541" y="322" width="13" height="14" fill="#1f958b"/>
<rect x="1554" y="322" width="13" height="14" fill="#1f988b"/>
<rect x="1567" y="322" width="14" height="14" fill="#35b779"/>
<rect x="1250" y="336" width="13" height="13" fill="#54c568"/>
<rect x="1263" y="336" width="13" height="13" fill="#60ca60"/>
<rect x="1276" y="336" width="14" height="13" fill="#1f958b"/>
<rect x="1290" y="336" width="13" height="13" fill="#81d34d"/>
<rect x="1303" y="336" width="13" height="13" fill="#54c568"/>
<rect x="1316" y="336" width="13" height="13" fill="#6ece58"/>
<rect x="1329" y="336" width="14" height="13" fill="#6ece58"/>
<rect x="1343" y="336" width="13" height="13" fill="#3aba76"/>
<rect x="1356" y="336" width="13" height="13" fill="#44bf70"/>
<rect x="1369" y="336" width="13" height="13" fill="#277e8e"/>
<rect x="1382" y="336" width="13" height="13" fill="#3fbc73"/>
<rect x="1395" y="336" width="14" height="13" fill="#1fa188"/>
<rect x="1409" y="336" width="13" height="13" fill="#26828e"/>
<rect x="1422" y="336" width="13" height="13" fill="#54c568"/>
<rect x="1435" y="336" width="13" height="13" fill="#1e9b8a"/>
<rect x="1448" y="336" width="14" height="13" fill="#22a884"/>
<rect x="1462" y="336" width="13" height="13" fill="#1fa188"/>
<rect x="1475" y="336" width="13" height="13" fill="#54c568"/>
<rect x="1488" y="336" width="13" height="13" fill="#c5e021"/>
<rect x="1501" y="336" width="13" height="13" fill="#addc30"/>
<rect x="1514" y="336" width="14" height="13" fill="#31b57b"/>
<rect x="1528" y="336" width="13" height="13" fill="#44bf70"/>
<rect x="1541" y="336" width="13" height="13" fill="#81d34d"/>
<rect x="1554" y="336" width="13" height="13" fill="#6ece58"/>
<rect x="1567" y="336" width="14" height="13" fill="#1fa188"/>
<rect x="1250" y="349" width="13" height="14" fill="#3fbc73"/>
<rect x="1263" y="349" width="13" height="14" fill="#cde11d"/>
<rect x="1276" y="349" width="14" height="14" fill="#60ca60"/>
<rect x="1290" y="349" width="13" height="14" fill="#277e8e"/>
<rect x="1303" y="349" width="13" height="14" fill="#6ece58"/>
<rect x="1316" y="349" width="13" height="14" fill="#3fbc73"/>
<rect x="1329" y="349" width="14" height="14" fill="#b5de2b"/>
<rect x="1343" y="349" width="13" height="14" fill="#3fbc73"/>
<rect x="1356" y="349" width="13" height="14" fill="#67cc5c"/>
<rect x="1369" y="349" width="13" height="14" fill="#54c568"/>
<rect x="1382" y="349" width="13" height="14" fill="#472f7d"/>
<rect x="1395" y="349" width="14" height="14" fill="#90d743"/>
<rect x="1409" y="349" width="13" height="14" fill="#44bf70"/>
<rect x="1422" y="349" width="13" height="14" fill="#1e9b8a"/>
<rect x="1435" y="349" width="13" height="14" fill="#277e8e"/>
<rect x="1448" y="349" width="14" height="14" fill="#3a538b"/>
<rect x="1462" y="349" width="13" height="14" fill="#1f9e89"/>
<rect x="1475" y="349" width="13" height="14" fill="#20928c"/>
<rect x="1488" y="349" width="13" height="14" fill="#23888e"/>
<rect x="1501" y="349" width="13" height="14" fill="#21a585"/>
<rect x="1514" y="349" width="14" height="14" fill="#440154"/>
<rect x="1528" y="349" width="13" height="14" fill="#1f9e89"/>
<rect x="1541" y="349" width="13" height="14" fill="#1f988b"/>
<rect x="1554" y="349" width="13" height="14" fill="#1f988b"/>
<rect x="1567" y="349" width="14" height="14" fill="#25ab82"/>
</g>
<g class="k">
<path d="M53.5 166.50V160.94M53.5 32.50V38.06"/>
<path d="M80.5 166.50V160.94M80.5 32.50V38.06"/>
<path d="M107.5 166.50V160.94M107.5 32.50V38.06"/>
<path d="M134.5 166.50V160.94M134.5 32.50V38.06"/>
<path d="M161.5 166.50V160.94M161.5 32.50V38.06"/>
<path d="M50.50 164.5H56.06M185.50 164.5H179.94"/>
<path d="M50.50 137.5H56.06M185.50 137.5H179.94"/>
<path d="M50.50 110.5H56.06M185.50 110.5H179.94"/>
<path d="M50.50 83.5H56.06M185.50 83.5H179.94"/>
<path d="M50.50 56.5H56.06M185.50 56.5H179.94"/>
<rect x="50.5" y="32.5" width="135" height="134" class="s"/>
<path d="M76.5 362.50V356.94M76.5 227.50V233.06"/>
<path d="M104.5 362.50V356.94M104.5 227.50V233.06"/>
<path d="M131.5 362.50V356.94M131.5 227.50V233.06"/>
<path d="M159.5 362.50V356.94M159.5 227.50V233.06"/>
<path d="M49.50 335.5H55.06M186.50 335.5H180.94"/>
<path d="M49.50 308.5H55.06M186.50 308.5H180.94"/>
<path d="M49.50 281.5H55.06M186.50 281.5H180.94"/>
<path d="M49.50 254.5H55.06M186.50 254.5H180.94"/>
<rect x="49.5" y="227.5" width="137" height="135" class="s"/>
<path d="M276.5 362.50V356.94M276.5 227.50V233.06"/>
<path d="M303.5 362.50V356.94M303.5 227.50V233.06"/>
<path d="M331.5 362.50V356.94M331.5 227.50V233.06"/>
<path d="M358.5 362.50V356.94M358.5 227.50V233.06"/>
<path d="M248.50 335.5H254.06M386.50 335.5H380.94"/>
<path d="M248.50 308.5H254.06M386.50 308.5H380.94"/>
<path d="M248.50 281.5H254.06M386.50 281.5H380.94"/>
<path d="M248.50 254.5H254.06M386.50 254.5H380.94"/>
<rect x="248.5" y="227.5" width="138" height="135" class="s"/>
<path d="M475.5 362.50V356.94M475.5 227.50V233.06"/>
<path d="M503.5 362.50V356.94M503.5 227.50V233.06"/>
<path d="M530.5 362.50V356.94M530.5 227.50V233.06"/>
<path d="M558.5 362.50V356.94M558.5 227.50V233.06"/>
<path d="M448.50 335.5H454.06M585.50 335.5H579.94"/>
<path d="M448.50 308.5H454.06M585.50 308.5H579.94"/>
<path d="M448.50 281.5H454.06M585.50 281.5H579.94"/>
<path d="M448.50 254.5H454.06M585.50 254.5H579.94"/>
<rect x="448.5" y="227.5" width="137" height="135" class="s"/>
<path d="M675.5 362.50V356.94M675.5 227.50V233.06"/>
<path d="M703.5 362.50V356.94M703.5 227.50V233.06"/>
<path d="M730.5 362.50V356.94M730.5 227.50V233.06"/>
<path d="M758.5 362.50V356.94M758.5 227.50V233.06"/>
<path d="M648.50 335.5H654.06M785.50 335.5H779.94"/>
<path d="M648.50 308.5H654.06M785.50 308.5H779.94"/>
<path d="M648.50 281.5H654.06M785.50 281.5H779.94"/>
<path d="M648.50 254.5H654.06M785.50 254.5H779.94"/>
<rect x="648.5" y="227.5" width="137" height="135" class="s"/>
<path d="M857.5 362.50V356.94M857.5 32.50V38.06"/>
<path d="M923.5 362.50V356.94M923.5 32.50V38.06"/>
<path d="M989.5 362.50V356.94M989.5 32.50V38.06"/>
<path d="M1055.5 362.50V356.94M1055.5 32.50V38.06"/>
<path d="M1121.5 362.50V356.94M1121.5 32.50V38.06"/>
<path d="M851.50 355.5H857.06M1180.50 355.5H1174.94"/>
<path d="M851.50 289.5H857.06M1180.50 289.5H1174.94"/>
<path d="M851.50 223.5H857.06M1180.50 223.5H1174.94"/>
<path d="M851.50 157.5H857.06M1180.50 157.5H1174.94"/>
<path d="M851.50 91.5H857.06M1180.50 91.5H1174.94"/>
<rect x="851.5" y="32.5" width="329" height="330" class="s"/>
<path d="M1256.5 362.50V356.94M1256.5 32.50V38.06"/>
<path d="M1322.5 362.50V356.94M1322.5 32.50V38.06"/>
<path d="M1388.5 362.50V356.94M1388.5 32.50V38.06"/>
<path d="M1454.5 362.50V356.94M1454.5 32.50V38.06"/>
<path d="M1520.5 362.50V356.94M1520.5 32.50V38.06"/>
<path d="M1250.50 355.5H1256.06M1580.50 355.5H1574.94"/>
<path d="M1250.50 289.5H1256.06M1580.50 289.5H1574.94"/>
<path d="M1250.50 223.5H1256.06M1580.50 223.5H1574.94"/>
<path d="M1250.50 157.5H1256.06M1580.50 157.5H1574.94"/>
<path d="M1250.50 91.5H1256.06M1580.50 91.5H1574.94"/>
<rect x="1250.5" y="32.5" width="330" height="330" class="s"/>
</g>
<g class="tk">
<text x="48.05" y="184.70" font-size="17.8">0</text>
<text x="75.07" y="184.70" font-size="17.8">5</text>
<text x="96.29 106.99" y="184.70" font-size="17.8">10</text>
<text x="123.47 134.10" y="184.70" font-size="17.8">15</text>
<text x="150.47 161.30" y="184.70" font-size="17.8">20</text>
<text x="34.55" y="168.90" font-size="17.8">0</text>
<text x="34.84" y="141.90" font-size="17.8">5</text>
<text x="23.85 34.55" y="114.90" font-size="17.8">10</text>
<text x="24.20 34.84" y="87.90" font-size="17.8">15</text>
<text x="23.72 34.55" y="60.90" font-size="17.8">20</text>
<text x="36.10 46.52 52.00" y="380.70" font-size="17.8">0.0</text>
<text x="63.38 73.80 79.06" y="380.70" font-size="17.8">0.2</text>
<text x="91.02 101.44 106.92" y="380.70" font-size="17.8">0.4</text>
<text x="118.07 128.50 133.98" y="380.70" font-size="17.8">0.6</text>
<text x="146.12 156.54 162.02" y="380.70" font-size="17.8">0.8</text>
<text x="172.64 183.15 188.64" y="380.70" font-size="17.8">1.0</text>
<text x="17.65 28.07 33.55" y="366.90" font-size="17.8">0.0</text>
<text x="18.21 28.63 33.89" y="339.90" font-size="17.8">0.2</text>
<text x="17.48 27.90 33.38" y="312.90" font-size="17.8">0.4</text>
<text x="17.60 28.02 33.50" y="285.90" font-size="17.8">0.6</text>
<text x="17.68 28.10 33.58" y="258.90" font-size="17.8">0.8</text>
<text x="17.56 28.07 33.55" y="231.90" font-size="17.8">1.0</text>
<text x="235.10 245.52 251.00" y="380.70" font-size="17.8">0.0</text>
<text x="263.38 273.80 279.06" y="380.70" font-size="17.8">0.2</text>
<text x="290.02 300.44 305.92" y="380.70" font-size="17.8">0.4</text>
<text x="318.07 328.50 333.98" y="380.70" font-size="17.8">0.6</text>
<text x="345.12 355.54 361.02" y="380.70" font-size="17.8">0.8</text>
<text x="372.64 383.15 388.64" y="380.70" font-size="17.8">1.0</text>
<text x="216.65 227.07 232.55" y="366.90" font-size="17.8">0.0</text>
<text x="217.21 227.63 232.89" y="339.90" font-size="17.8">0.2</text>
<text x="216.48 226.90 232.38" y="312.90" font-size="17.8">0.4</text>
<text x="216.60 227.02 232.50" y="285.90" font-size="17.8">0.6</text>
<text x="216.68 227.10 232.58" y="258.90" font-size="17.8">0.8</text>
<text x="216.56 227.07 232.55" y="231.90" font-size="17.8">1.0</text>
<text x="435.10 445.52 451.00" y="380.70" font-size="17.8">0.0</text>
<text x="462.38 472.80 478.06" y="380.70" font-size="17.8">0.2</text>
<text x="490.02 500.44 505.92" y="380.70" font-size="17.8">0.4</text>
<text x="517.07 527.50 532.98" y="380.70" font-size="17.8">0.6</text>
<text x="545.12 555.54 561.02" y="380.70" font-size="17.8">0.8</text>
<text x="571.64 582.15 587.64" y="380.70" font-size="17.8">1.0</text>
<text x="416.65 427.07 432.55" y="366.90" font-size="17.8">0.0</text>
<text x="417.21 427.63 432.89" y="339.90" font-size="17.8">0.2</text>
<text x="416.48 426.90 432.38" y="312.90" font-size="17.8">0.4</text>
<text x="416.60 427.02 432.50" y="285.90" font-size="17.8">0.6</text>
<text x="416.68 427.10 432.58" y="258.90" font-size="17.8">0.8</text>
<text x="416.56 427.07 432.55" y="231.90" font-size="17.8">1.0</text>
<text x="635.10 645.52 651.00" y="380.70" font-size="17.8">0.0</text>
<text x="662.38 672.80 678.06" y="380.70" font-size="17.8">0.2</text>
<text x="690.02 700.44 705.92" y="380.70" font-size="17.8">0.4</text>
<text x="717.07 727.50 732.98" y="380.70" font-size="17.8">0.6</text>
<text x="745.12 755.54 761.02" y="380.70" font-size="17.8">0.8</text>
<text x="771.64 782.15 787.64" y="380.70" font-size="17.8">1.0</text>
<text x="616.65 627.07 632.55" y="366.90" font-size="17.8">0.0</text>
<text x="617.21 627.63 632.89" y="339.90" font-size="17.8">0.2</text>
<text x="616.48 626.90 632.38" y="312.90" font-size="17.8">0.4</text>
<text x="616.60 627.02 632.50" y="285.90" font-size="17.8">0.6</text>
<text x="616.68 627.10 632.58" y="258.90" font-size="17.8">0.8</text>
<text x="616.56 627.07 632.55" y="231.90" font-size="17.8">1.0</text>
<text x="852.05" y="380.70" font-size="17.8">0</text>
<text x="918.07" y="380.70" font-size="17.8">5</text>
<text x="978.29 988.99" y="380.70" font-size="17.8">10</text>
<text x="1044.47 1055.10" y="380.70" font-size="17.8">15</text>
<text x="1110.47 1121.30" y="380.70" font-size="17.8">20</text>
<text x="835.55" y="359.90" font-size="17.8">0</text>
<text x="835.84" y="293.90" font-size="17.8">5</text>
<text x="824.85 835.55" y="227.90" font-size="17.8">10</text>
<text x="825.20 835.84" y="161.90" font-size="17.8">15</text>
<text x="824.72 835.55" y="95.90" font-size="17.8">20</text>
<text x="1251.05" y="380.70" font-size="17.8">0</text>
<text x="1317.07" y="380.70" font-size="17.8">5</text>
<text x="1377.29 1387.99" y="380.70" font-size="17.8">10</text>
<text x="1443.47 1454.10" y="380.70" font-size="17.8">15</text>
<text x="1509.47 1520.30" y="380.70" font-size="17.8">20</text>
<text x="1234.55" y="359.90" font-size="17.8">0</text>
<text x="1234.84" y="293.90" font-size="17.8">5</text>
<text x="1223.85 1234.55" y="227.90" font-size="17.8">10</text>
<text x="1224.20 1234.84" y="161.90" font-size="17.8">15</text>
<text x="1223.72 1234.55" y="95.90" font-size="17.8">20</text>
</g>
<g>
<text x="87.07 93.77 106.39 119.21 132.01" y="24.90" font-size="21.0">f814w</text>
<text x="87.07 93.66 106.49 119.14 132.01" y="219.90" font-size="21.0">f105w</text>
<text x="286.57 293.16 305.72 318.64 331.51" y="219.90" font-size="21.0">f125w</text>
<text x="486.07 492.66 505.48 518.21 531.01" y="219.90" font-size="21.0">f140w</text>
<text x="686.07 692.66 705.49 718.21 731.01" y="219.90" font-size="21.0">f160w</text>
<text x="967.09 980.22 994.35 1007.60 1013.66 1026.45 1039.35 1045.79 1058.95" y="24.90" font-size="21.0">ACS Total</text>
<text x="1344.58 1363.68 1375.18 1390.40 1402.58 1408.97 1414.53 1428.74 1434.80 1447.59 1460.49 1466.93 1480.09" y="24.90" font-size="21.0">WFC3 IR Total</text>
</g>
</svg>
</body></html>
